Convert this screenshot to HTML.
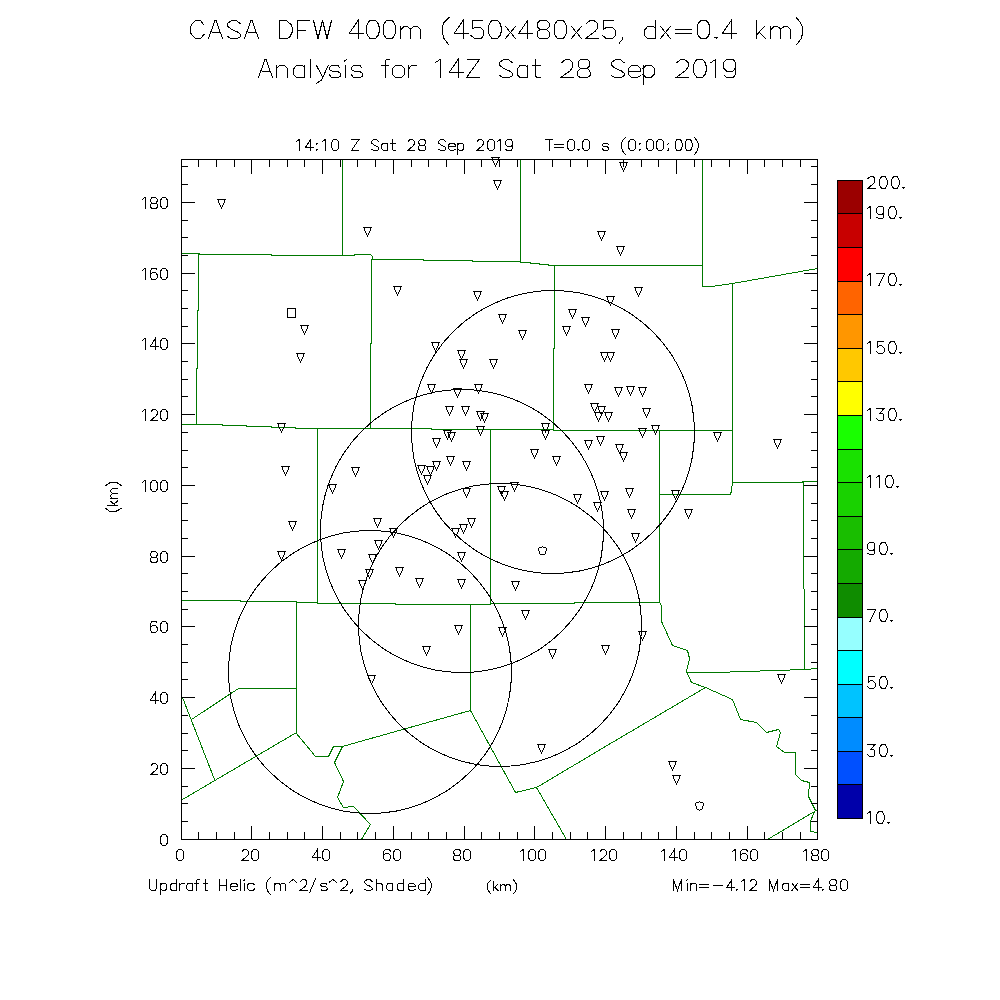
<!DOCTYPE html><html><head><meta charset="utf-8"><style>html,body{margin:0;padding:0;background:#fff;width:1000px;height:1000px;overflow:hidden}svg{display:block}text{font-family:"Liberation Sans",sans-serif}</style></head><body>
<svg width="1000" height="1000" viewBox="0 0 1000 1000">
<rect width="1000" height="1000" fill="#fff"/>
<rect x="837" y="180" width="26" height="33" fill="#9b0000"/>
<rect x="837" y="213" width="26" height="34" fill="#c80000"/>
<rect x="837" y="247" width="26" height="34" fill="#ff0000"/>
<rect x="837" y="281" width="26" height="33" fill="#ff6400"/>
<rect x="837" y="314" width="26" height="34" fill="#ff9600"/>
<rect x="837" y="348" width="26" height="33" fill="#ffc800"/>
<rect x="837" y="381" width="26" height="34" fill="#ffff00"/>
<rect x="837" y="415" width="26" height="34" fill="#19ff00"/>
<rect x="837" y="449" width="26" height="33" fill="#19e100"/>
<rect x="837" y="482" width="26" height="34" fill="#19d200"/>
<rect x="837" y="516" width="26" height="33" fill="#19be00"/>
<rect x="837" y="549" width="26" height="34" fill="#14aa00"/>
<rect x="837" y="583" width="26" height="34" fill="#0f8c00"/>
<rect x="837" y="617" width="26" height="33" fill="#96ffff"/>
<rect x="837" y="650" width="26" height="34" fill="#00ffff"/>
<rect x="837" y="684" width="26" height="33" fill="#00c3ff"/>
<rect x="837" y="717" width="26" height="34" fill="#008cff"/>
<rect x="837" y="751" width="26" height="33" fill="#0050ff"/>
<rect x="837" y="784" width="26" height="34" fill="#0000aa"/>
<g fill="none" stroke-width="1" stroke-linecap="square" shape-rendering="crispEdges">
<path d="M837.5 180.5 L862.5 180.5" stroke="#000"/>
<path d="M837.5 213.5 L862.5 213.5" stroke="#000"/>
<path d="M837.5 247.5 L862.5 247.5" stroke="#000"/>
<path d="M837.5 281.5 L862.5 281.5" stroke="#000"/>
<path d="M837.5 314.5 L862.5 314.5" stroke="#000"/>
<path d="M837.5 348.5 L862.5 348.5" stroke="#000"/>
<path d="M837.5 381.5 L862.5 381.5" stroke="#000"/>
<path d="M837.5 415.5 L862.5 415.5" stroke="#000"/>
<path d="M837.5 449.5 L862.5 449.5" stroke="#000"/>
<path d="M837.5 482.5 L862.5 482.5" stroke="#000"/>
<path d="M837.5 516.5 L862.5 516.5" stroke="#000"/>
<path d="M837.5 549.5 L862.5 549.5" stroke="#000"/>
<path d="M837.5 583.5 L862.5 583.5" stroke="#000"/>
<path d="M837.5 617.5 L862.5 617.5" stroke="#000"/>
<path d="M837.5 650.5 L862.5 650.5" stroke="#000"/>
<path d="M837.5 684.5 L862.5 684.5" stroke="#000"/>
<path d="M837.5 717.5 L862.5 717.5" stroke="#000"/>
<path d="M837.5 751.5 L862.5 751.5" stroke="#000"/>
<path d="M837.5 784.5 L862.5 784.5" stroke="#000"/>
<path d="M837.5 818.5 L862.5 818.5" stroke="#000"/>
<path d="M837.5 180.5 L837.5 818.5" stroke="#000"/>
<path d="M862.5 180.5 L862.5 818.5" stroke="#000"/>
<path d="M342.5 159.5 L342.5 255.5" stroke="#007800"/>
<path d="M181.5 253.5 L199.5 253.5 L199.5 254.5 L271.5 254.5 L271.5 255.5 L354.5 255.5 L354.5 254.5 L370.5 254.5 L372.5 256.5 L372.5 259.5 L423.5 259.5 L423.5 260.5 L472.5 260.5 L472.5 261.5 L520.5 261.5 L520.5 262.5 L530.5 262.5 L530.5 263.5 L539.5 263.5 L539.5 264.5 L548.5 264.5 L548.5 265.5 L702.5 265.5" stroke="#007800"/>
<path d="M198.5 254.5 L198.5 310.5 L197.5 310.5 L197.5 368.5 L196.5 368.5 L196.5 424.5" stroke="#007800"/>
<path d="M371.5 259.5 L371.5 343.5 L370.5 343.5 L370.5 428.5" stroke="#007800"/>
<path d="M520.5 159.5 L520.5 261.5" stroke="#007800"/>
<path d="M554.5 265.5 L554.5 348.5 L553.5 348.5 L553.5 429.5" stroke="#007800"/>
<path d="M702.5 159.5 L702.5 286.5 L711.5 286.5 L732.5 283.5 L817.5 268.5" stroke="#007800"/>
<path d="M732.5 283.5 L732.5 482.5 L731.5 490.5 L730.5 494.5" stroke="#007800"/>
<path d="M181.5 424.5 L222.5 424.5 L222.5 425.5 L246.5 425.5 L246.5 426.5 L271.5 426.5 L271.5 427.5 L295.5 427.5 L295.5 428.5 L431.5 428.5 L431.5 429.5 L553.5 429.5 L553.5 430.5 L732.5 430.5" stroke="#007800"/>
<path d="M317.5 428.5 L317.5 602.5" stroke="#007800"/>
<path d="M490.5 429.5 L490.5 603.5" stroke="#007800"/>
<path d="M659.5 430.5 L659.5 602.5" stroke="#007800"/>
<path d="M659.5 494.5 L730.5 494.5" stroke="#007800"/>
<path d="M732.5 482.5 L802.5 482.5 L802.5 481.5 L817.5 481.5" stroke="#007800"/>
<path d="M803.5 482.5 L803.5 575.5 L804.5 602.5 L804.5 668.5" stroke="#007800"/>
<path d="M181.5 600.5 L240.5 600.5 L240.5 601.5 L296.5 601.5 L296.5 602.5 L317.5 602.5 L317.5 603.5 L395.5 603.5 L395.5 604.5 L490.5 604.5 L490.5 603.5 L574.5 603.5 L574.5 602.5 L659.5 602.5" stroke="#007800"/>
<path d="M296.5 601.5 L296.5 733.5" stroke="#007800"/>
<path d="M238.5 688.5 L296.5 688.5" stroke="#007800"/>
<path d="M238.5 688.5 L191.5 719.5" stroke="#007800"/>
<path d="M182.5 697.5 L214.5 779.5" stroke="#007800"/>
<path d="M296.5 732.5 L182.5 799.5" stroke="#007800"/>
<path d="M296.5 733.5 L315.5 756.5 L328.5 756.5 L333.5 746.5 L342.5 746.5 L395.5 731.5 L470.5 710.5" stroke="#007800"/>
<path d="M342.5 746.5 L334.5 762.5 L343.5 781.5 L337.5 797.5 L343.5 807.5 L353.5 806.5 L370.5 824.5 L361.5 839.5" stroke="#007800"/>
<path d="M470.5 604.5 L470.5 710.5" stroke="#007800"/>
<path d="M470.5 710.5 L515.5 792.5 L536.5 787.5 L610.5 743.5 L705.5 687.5" stroke="#007800"/>
<path d="M536.5 787.5 L566.5 839.5" stroke="#007800"/>
<path d="M659.5 602.5 L661.5 605.5 L661.5 621.5 L672.5 645.5 L687.5 650.5 L689.5 658.5 L686.5 671.5 L691.5 682.5 L705.5 687.5 L732.5 699.5 L740.5 719.5 L756.5 722.5 L766.5 732.5 L778.5 729.5 L780.5 732.5 L776.5 746.5 L784.5 752.5 L795.5 752.5 L795.5 774.5 L801.5 780.5 L809.5 782.5 L808.5 796.5 L812.5 804.5 L815.5 810.5 L813.5 813.5 L810.5 821.5 L810.5 831.5 L817.5 832.5" stroke="#007800"/>
<path d="M815.5 810.5 L817.5 810.5" stroke="#007800"/>
<path d="M686.5 672.5 L715.5 672.5 L805.5 669.5 L817.5 668.5" stroke="#007800"/>
<path d="M767.5 839.5 L814.5 811.5" stroke="#007800"/>
<circle cx="553" cy="432" r="141.5" stroke="#000"/>
<circle cx="462" cy="531" r="141.5" stroke="#000"/>
<circle cx="370" cy="672" r="141.5" stroke="#000"/>
<circle cx="500" cy="625" r="141.5" stroke="#000"/>
<path fill="#000" stroke="none" d="M217 199h9v1h-9zM218 200h1v1h-1zM224 200h1v1h-1zM218 201h1v1h-1zM224 201h1v1h-1zM218 202h1v1h-1zM224 202h1v1h-1zM219 203h1v1h-1zM223 203h1v1h-1zM219 204h1v1h-1zM223 204h1v1h-1zM220 205h1v1h-1zM222 205h1v1h-1zM220 206h1v1h-1zM222 206h1v1h-1zM221 207h1v1h-1zM221 208h1v1h-1zM363 227h9v1h-9zM364 228h1v1h-1zM370 228h1v1h-1zM364 229h1v1h-1zM370 229h1v1h-1zM364 230h1v1h-1zM370 230h1v1h-1zM365 231h1v1h-1zM369 231h1v1h-1zM365 232h1v1h-1zM369 232h1v1h-1zM366 233h1v1h-1zM368 233h1v1h-1zM366 234h1v1h-1zM368 234h1v1h-1zM367 235h1v1h-1zM367 236h1v1h-1zM393 286h9v1h-9zM394 287h1v1h-1zM400 287h1v1h-1zM394 288h1v1h-1zM400 288h1v1h-1zM394 289h1v1h-1zM400 289h1v1h-1zM395 290h1v1h-1zM399 290h1v1h-1zM395 291h1v1h-1zM399 291h1v1h-1zM396 292h1v1h-1zM398 292h1v1h-1zM396 293h1v1h-1zM398 293h1v1h-1zM397 294h1v1h-1zM397 295h1v1h-1zM300 325h9v1h-9zM301 326h1v1h-1zM307 326h1v1h-1zM301 327h1v1h-1zM307 327h1v1h-1zM301 328h1v1h-1zM307 328h1v1h-1zM302 329h1v1h-1zM306 329h1v1h-1zM302 330h1v1h-1zM306 330h1v1h-1zM303 331h1v1h-1zM305 331h1v1h-1zM303 332h1v1h-1zM305 332h1v1h-1zM304 333h1v1h-1zM304 334h1v1h-1zM296 353h9v1h-9zM297 354h1v1h-1zM303 354h1v1h-1zM297 355h1v1h-1zM303 355h1v1h-1zM297 356h1v1h-1zM303 356h1v1h-1zM298 357h1v1h-1zM302 357h1v1h-1zM298 358h1v1h-1zM302 358h1v1h-1zM299 359h1v1h-1zM301 359h1v1h-1zM299 360h1v1h-1zM301 360h1v1h-1zM300 361h1v1h-1zM300 362h1v1h-1zM491 157h9v1h-9zM492 158h1v1h-1zM498 158h1v1h-1zM492 159h1v1h-1zM498 159h1v1h-1zM492 160h1v1h-1zM498 160h1v1h-1zM493 161h1v1h-1zM497 161h1v1h-1zM493 162h1v1h-1zM497 162h1v1h-1zM494 163h1v1h-1zM496 163h1v1h-1zM494 164h1v1h-1zM496 164h1v1h-1zM495 165h1v1h-1zM495 166h1v1h-1zM493 180h9v1h-9zM494 181h1v1h-1zM500 181h1v1h-1zM494 182h1v1h-1zM500 182h1v1h-1zM494 183h1v1h-1zM500 183h1v1h-1zM495 184h1v1h-1zM499 184h1v1h-1zM495 185h1v1h-1zM499 185h1v1h-1zM496 186h1v1h-1zM498 186h1v1h-1zM496 187h1v1h-1zM498 187h1v1h-1zM497 188h1v1h-1zM497 189h1v1h-1zM597 231h9v1h-9zM598 232h1v1h-1zM604 232h1v1h-1zM598 233h1v1h-1zM604 233h1v1h-1zM598 234h1v1h-1zM604 234h1v1h-1zM599 235h1v1h-1zM603 235h1v1h-1zM599 236h1v1h-1zM603 236h1v1h-1zM600 237h1v1h-1zM602 237h1v1h-1zM600 238h1v1h-1zM602 238h1v1h-1zM601 239h1v1h-1zM601 240h1v1h-1zM473 291h9v1h-9zM474 292h1v1h-1zM480 292h1v1h-1zM474 293h1v1h-1zM480 293h1v1h-1zM474 294h1v1h-1zM480 294h1v1h-1zM475 295h1v1h-1zM479 295h1v1h-1zM475 296h1v1h-1zM479 296h1v1h-1zM476 297h1v1h-1zM478 297h1v1h-1zM476 298h1v1h-1zM478 298h1v1h-1zM477 299h1v1h-1zM477 300h1v1h-1zM498 314h9v1h-9zM499 315h1v1h-1zM505 315h1v1h-1zM499 316h1v1h-1zM505 316h1v1h-1zM499 317h1v1h-1zM505 317h1v1h-1zM500 318h1v1h-1zM504 318h1v1h-1zM500 319h1v1h-1zM504 319h1v1h-1zM501 320h1v1h-1zM503 320h1v1h-1zM501 321h1v1h-1zM503 321h1v1h-1zM502 322h1v1h-1zM502 323h1v1h-1zM518 330h9v1h-9zM519 331h1v1h-1zM525 331h1v1h-1zM519 332h1v1h-1zM525 332h1v1h-1zM519 333h1v1h-1zM525 333h1v1h-1zM520 334h1v1h-1zM524 334h1v1h-1zM520 335h1v1h-1zM524 335h1v1h-1zM521 336h1v1h-1zM523 336h1v1h-1zM521 337h1v1h-1zM523 337h1v1h-1zM522 338h1v1h-1zM522 339h1v1h-1zM568 309h9v1h-9zM569 310h1v1h-1zM575 310h1v1h-1zM569 311h1v1h-1zM575 311h1v1h-1zM569 312h1v1h-1zM575 312h1v1h-1zM570 313h1v1h-1zM574 313h1v1h-1zM570 314h1v1h-1zM574 314h1v1h-1zM571 315h1v1h-1zM573 315h1v1h-1zM571 316h1v1h-1zM573 316h1v1h-1zM572 317h1v1h-1zM572 318h1v1h-1zM581 317h9v1h-9zM582 318h1v1h-1zM588 318h1v1h-1zM582 319h1v1h-1zM588 319h1v1h-1zM582 320h1v1h-1zM588 320h1v1h-1zM583 321h1v1h-1zM587 321h1v1h-1zM583 322h1v1h-1zM587 322h1v1h-1zM584 323h1v1h-1zM586 323h1v1h-1zM584 324h1v1h-1zM586 324h1v1h-1zM585 325h1v1h-1zM585 326h1v1h-1zM562 326h9v1h-9zM563 327h1v1h-1zM569 327h1v1h-1zM563 328h1v1h-1zM569 328h1v1h-1zM563 329h1v1h-1zM569 329h1v1h-1zM564 330h1v1h-1zM568 330h1v1h-1zM564 331h1v1h-1zM568 331h1v1h-1zM565 332h1v1h-1zM567 332h1v1h-1zM565 333h1v1h-1zM567 333h1v1h-1zM566 334h1v1h-1zM566 335h1v1h-1zM431 342h9v1h-9zM432 343h1v1h-1zM438 343h1v1h-1zM432 344h1v1h-1zM438 344h1v1h-1zM432 345h1v1h-1zM438 345h1v1h-1zM433 346h1v1h-1zM437 346h1v1h-1zM433 347h1v1h-1zM437 347h1v1h-1zM434 348h1v1h-1zM436 348h1v1h-1zM434 349h1v1h-1zM436 349h1v1h-1zM435 350h1v1h-1zM435 351h1v1h-1zM457 350h9v1h-9zM458 351h1v1h-1zM464 351h1v1h-1zM458 352h1v1h-1zM464 352h1v1h-1zM458 353h1v1h-1zM464 353h1v1h-1zM459 354h1v1h-1zM463 354h1v1h-1zM459 355h1v1h-1zM463 355h1v1h-1zM460 356h1v1h-1zM462 356h1v1h-1zM460 357h1v1h-1zM462 357h1v1h-1zM461 358h1v1h-1zM461 359h1v1h-1zM459 359h9v1h-9zM460 360h1v1h-1zM466 360h1v1h-1zM460 361h1v1h-1zM466 361h1v1h-1zM460 362h1v1h-1zM466 362h1v1h-1zM461 363h1v1h-1zM465 363h1v1h-1zM461 364h1v1h-1zM465 364h1v1h-1zM462 365h1v1h-1zM464 365h1v1h-1zM462 366h1v1h-1zM464 366h1v1h-1zM463 367h1v1h-1zM463 368h1v1h-1zM489 359h9v1h-9zM490 360h1v1h-1zM496 360h1v1h-1zM490 361h1v1h-1zM496 361h1v1h-1zM490 362h1v1h-1zM496 362h1v1h-1zM491 363h1v1h-1zM495 363h1v1h-1zM491 364h1v1h-1zM495 364h1v1h-1zM492 365h1v1h-1zM494 365h1v1h-1zM492 366h1v1h-1zM494 366h1v1h-1zM493 367h1v1h-1zM493 368h1v1h-1zM600 352h9v1h-9zM601 353h1v1h-1zM607 353h1v1h-1zM601 354h1v1h-1zM607 354h1v1h-1zM601 355h1v1h-1zM607 355h1v1h-1zM602 356h1v1h-1zM606 356h1v1h-1zM602 357h1v1h-1zM606 357h1v1h-1zM603 358h1v1h-1zM605 358h1v1h-1zM603 359h1v1h-1zM605 359h1v1h-1zM604 360h1v1h-1zM604 361h1v1h-1zM606 296h9v1h-9zM607 297h1v1h-1zM613 297h1v1h-1zM607 298h1v1h-1zM613 298h1v1h-1zM607 299h1v1h-1zM613 299h1v1h-1zM608 300h1v1h-1zM612 300h1v1h-1zM608 301h1v1h-1zM612 301h1v1h-1zM609 302h1v1h-1zM611 302h1v1h-1zM609 303h1v1h-1zM611 303h1v1h-1zM610 304h1v1h-1zM610 305h1v1h-1zM619 162h9v1h-9zM620 163h1v1h-1zM626 163h1v1h-1zM620 164h1v1h-1zM626 164h1v1h-1zM620 165h1v1h-1zM626 165h1v1h-1zM621 166h1v1h-1zM625 166h1v1h-1zM621 167h1v1h-1zM625 167h1v1h-1zM622 168h1v1h-1zM624 168h1v1h-1zM622 169h1v1h-1zM624 169h1v1h-1zM623 170h1v1h-1zM623 171h1v1h-1zM616 246h9v1h-9zM617 247h1v1h-1zM623 247h1v1h-1zM617 248h1v1h-1zM623 248h1v1h-1zM617 249h1v1h-1zM623 249h1v1h-1zM618 250h1v1h-1zM622 250h1v1h-1zM618 251h1v1h-1zM622 251h1v1h-1zM619 252h1v1h-1zM621 252h1v1h-1zM619 253h1v1h-1zM621 253h1v1h-1zM620 254h1v1h-1zM620 255h1v1h-1zM634 287h9v1h-9zM635 288h1v1h-1zM641 288h1v1h-1zM635 289h1v1h-1zM641 289h1v1h-1zM635 290h1v1h-1zM641 290h1v1h-1zM636 291h1v1h-1zM640 291h1v1h-1zM636 292h1v1h-1zM640 292h1v1h-1zM637 293h1v1h-1zM639 293h1v1h-1zM637 294h1v1h-1zM639 294h1v1h-1zM638 295h1v1h-1zM638 296h1v1h-1zM611 329h9v1h-9zM612 330h1v1h-1zM618 330h1v1h-1zM612 331h1v1h-1zM618 331h1v1h-1zM612 332h1v1h-1zM618 332h1v1h-1zM613 333h1v1h-1zM617 333h1v1h-1zM613 334h1v1h-1zM617 334h1v1h-1zM614 335h1v1h-1zM616 335h1v1h-1zM614 336h1v1h-1zM616 336h1v1h-1zM615 337h1v1h-1zM615 338h1v1h-1zM606 352h9v1h-9zM607 353h1v1h-1zM613 353h1v1h-1zM607 354h1v1h-1zM613 354h1v1h-1zM607 355h1v1h-1zM613 355h1v1h-1zM608 356h1v1h-1zM612 356h1v1h-1zM608 357h1v1h-1zM612 357h1v1h-1zM609 358h1v1h-1zM611 358h1v1h-1zM609 359h1v1h-1zM611 359h1v1h-1zM610 360h1v1h-1zM610 361h1v1h-1zM277 423h9v1h-9zM278 424h1v1h-1zM284 424h1v1h-1zM278 425h1v1h-1zM284 425h1v1h-1zM278 426h1v1h-1zM284 426h1v1h-1zM279 427h1v1h-1zM283 427h1v1h-1zM279 428h1v1h-1zM283 428h1v1h-1zM280 429h1v1h-1zM282 429h1v1h-1zM280 430h1v1h-1zM282 430h1v1h-1zM281 431h1v1h-1zM281 432h1v1h-1zM281 466h9v1h-9zM282 467h1v1h-1zM288 467h1v1h-1zM282 468h1v1h-1zM288 468h1v1h-1zM282 469h1v1h-1zM288 469h1v1h-1zM283 470h1v1h-1zM287 470h1v1h-1zM283 471h1v1h-1zM287 471h1v1h-1zM284 472h1v1h-1zM286 472h1v1h-1zM284 473h1v1h-1zM286 473h1v1h-1zM285 474h1v1h-1zM285 475h1v1h-1zM351 467h9v1h-9zM352 468h1v1h-1zM358 468h1v1h-1zM352 469h1v1h-1zM358 469h1v1h-1zM352 470h1v1h-1zM358 470h1v1h-1zM353 471h1v1h-1zM357 471h1v1h-1zM353 472h1v1h-1zM357 472h1v1h-1zM354 473h1v1h-1zM356 473h1v1h-1zM354 474h1v1h-1zM356 474h1v1h-1zM355 475h1v1h-1zM355 476h1v1h-1zM328 484h9v1h-9zM329 485h1v1h-1zM335 485h1v1h-1zM329 486h1v1h-1zM335 486h1v1h-1zM329 487h1v1h-1zM335 487h1v1h-1zM330 488h1v1h-1zM334 488h1v1h-1zM330 489h1v1h-1zM334 489h1v1h-1zM331 490h1v1h-1zM333 490h1v1h-1zM331 491h1v1h-1zM333 491h1v1h-1zM332 492h1v1h-1zM332 493h1v1h-1zM288 521h9v1h-9zM289 522h1v1h-1zM295 522h1v1h-1zM289 523h1v1h-1zM295 523h1v1h-1zM289 524h1v1h-1zM295 524h1v1h-1zM290 525h1v1h-1zM294 525h1v1h-1zM290 526h1v1h-1zM294 526h1v1h-1zM291 527h1v1h-1zM293 527h1v1h-1zM291 528h1v1h-1zM293 528h1v1h-1zM292 529h1v1h-1zM292 530h1v1h-1zM373 518h9v1h-9zM374 519h1v1h-1zM380 519h1v1h-1zM374 520h1v1h-1zM380 520h1v1h-1zM374 521h1v1h-1zM380 521h1v1h-1zM375 522h1v1h-1zM379 522h1v1h-1zM375 523h1v1h-1zM379 523h1v1h-1zM376 524h1v1h-1zM378 524h1v1h-1zM376 525h1v1h-1zM378 525h1v1h-1zM377 526h1v1h-1zM377 527h1v1h-1zM389 528h9v1h-9zM390 529h1v1h-1zM396 529h1v1h-1zM390 530h1v1h-1zM396 530h1v1h-1zM390 531h1v1h-1zM396 531h1v1h-1zM391 532h1v1h-1zM395 532h1v1h-1zM391 533h1v1h-1zM395 533h1v1h-1zM392 534h1v1h-1zM394 534h1v1h-1zM392 535h1v1h-1zM394 535h1v1h-1zM393 536h1v1h-1zM393 537h1v1h-1zM374 540h9v1h-9zM375 541h1v1h-1zM381 541h1v1h-1zM375 542h1v1h-1zM381 542h1v1h-1zM375 543h1v1h-1zM381 543h1v1h-1zM376 544h1v1h-1zM380 544h1v1h-1zM376 545h1v1h-1zM380 545h1v1h-1zM377 546h1v1h-1zM379 546h1v1h-1zM377 547h1v1h-1zM379 547h1v1h-1zM378 548h1v1h-1zM378 549h1v1h-1zM337 549h9v1h-9zM338 550h1v1h-1zM344 550h1v1h-1zM338 551h1v1h-1zM344 551h1v1h-1zM338 552h1v1h-1zM344 552h1v1h-1zM339 553h1v1h-1zM343 553h1v1h-1zM339 554h1v1h-1zM343 554h1v1h-1zM340 555h1v1h-1zM342 555h1v1h-1zM340 556h1v1h-1zM342 556h1v1h-1zM341 557h1v1h-1zM341 558h1v1h-1zM277 551h9v1h-9zM278 552h1v1h-1zM284 552h1v1h-1zM278 553h1v1h-1zM284 553h1v1h-1zM278 554h1v1h-1zM284 554h1v1h-1zM279 555h1v1h-1zM283 555h1v1h-1zM279 556h1v1h-1zM283 556h1v1h-1zM280 557h1v1h-1zM282 557h1v1h-1zM280 558h1v1h-1zM282 558h1v1h-1zM281 559h1v1h-1zM281 560h1v1h-1zM368 554h9v1h-9zM369 555h1v1h-1zM375 555h1v1h-1zM369 556h1v1h-1zM375 556h1v1h-1zM369 557h1v1h-1zM375 557h1v1h-1zM370 558h1v1h-1zM374 558h1v1h-1zM370 559h1v1h-1zM374 559h1v1h-1zM371 560h1v1h-1zM373 560h1v1h-1zM371 561h1v1h-1zM373 561h1v1h-1zM372 562h1v1h-1zM372 563h1v1h-1zM365 569h9v1h-9zM366 570h1v1h-1zM372 570h1v1h-1zM366 571h1v1h-1zM372 571h1v1h-1zM366 572h1v1h-1zM372 572h1v1h-1zM367 573h1v1h-1zM371 573h1v1h-1zM367 574h1v1h-1zM371 574h1v1h-1zM368 575h1v1h-1zM370 575h1v1h-1zM368 576h1v1h-1zM370 576h1v1h-1zM369 577h1v1h-1zM369 578h1v1h-1zM358 580h9v1h-9zM359 581h1v1h-1zM365 581h1v1h-1zM359 582h1v1h-1zM365 582h1v1h-1zM359 583h1v1h-1zM365 583h1v1h-1zM360 584h1v1h-1zM364 584h1v1h-1zM360 585h1v1h-1zM364 585h1v1h-1zM361 586h1v1h-1zM363 586h1v1h-1zM361 587h1v1h-1zM363 587h1v1h-1zM362 588h1v1h-1zM362 589h1v1h-1zM427 384h9v1h-9zM428 385h1v1h-1zM434 385h1v1h-1zM428 386h1v1h-1zM434 386h1v1h-1zM428 387h1v1h-1zM434 387h1v1h-1zM429 388h1v1h-1zM433 388h1v1h-1zM429 389h1v1h-1zM433 389h1v1h-1zM430 390h1v1h-1zM432 390h1v1h-1zM430 391h1v1h-1zM432 391h1v1h-1zM431 392h1v1h-1zM431 393h1v1h-1zM453 388h9v1h-9zM454 389h1v1h-1zM460 389h1v1h-1zM454 390h1v1h-1zM460 390h1v1h-1zM454 391h1v1h-1zM460 391h1v1h-1zM455 392h1v1h-1zM459 392h1v1h-1zM455 393h1v1h-1zM459 393h1v1h-1zM456 394h1v1h-1zM458 394h1v1h-1zM456 395h1v1h-1zM458 395h1v1h-1zM457 396h1v1h-1zM457 397h1v1h-1zM474 384h9v1h-9zM475 385h1v1h-1zM481 385h1v1h-1zM475 386h1v1h-1zM481 386h1v1h-1zM475 387h1v1h-1zM481 387h1v1h-1zM476 388h1v1h-1zM480 388h1v1h-1zM476 389h1v1h-1zM480 389h1v1h-1zM477 390h1v1h-1zM479 390h1v1h-1zM477 391h1v1h-1zM479 391h1v1h-1zM478 392h1v1h-1zM478 393h1v1h-1zM584 384h9v1h-9zM585 385h1v1h-1zM591 385h1v1h-1zM585 386h1v1h-1zM591 386h1v1h-1zM585 387h1v1h-1zM591 387h1v1h-1zM586 388h1v1h-1zM590 388h1v1h-1zM586 389h1v1h-1zM590 389h1v1h-1zM587 390h1v1h-1zM589 390h1v1h-1zM587 391h1v1h-1zM589 391h1v1h-1zM588 392h1v1h-1zM588 393h1v1h-1zM445 406h9v1h-9zM446 407h1v1h-1zM452 407h1v1h-1zM446 408h1v1h-1zM452 408h1v1h-1zM446 409h1v1h-1zM452 409h1v1h-1zM447 410h1v1h-1zM451 410h1v1h-1zM447 411h1v1h-1zM451 411h1v1h-1zM448 412h1v1h-1zM450 412h1v1h-1zM448 413h1v1h-1zM450 413h1v1h-1zM449 414h1v1h-1zM449 415h1v1h-1zM461 406h9v1h-9zM462 407h1v1h-1zM468 407h1v1h-1zM462 408h1v1h-1zM468 408h1v1h-1zM462 409h1v1h-1zM468 409h1v1h-1zM463 410h1v1h-1zM467 410h1v1h-1zM463 411h1v1h-1zM467 411h1v1h-1zM464 412h1v1h-1zM466 412h1v1h-1zM464 413h1v1h-1zM466 413h1v1h-1zM465 414h1v1h-1zM465 415h1v1h-1zM476 411h9v1h-9zM477 412h1v1h-1zM483 412h1v1h-1zM477 413h1v1h-1zM483 413h1v1h-1zM477 414h1v1h-1zM483 414h1v1h-1zM478 415h1v1h-1zM482 415h1v1h-1zM478 416h1v1h-1zM482 416h1v1h-1zM479 417h1v1h-1zM481 417h1v1h-1zM479 418h1v1h-1zM481 418h1v1h-1zM480 419h1v1h-1zM480 420h1v1h-1zM480 413h9v1h-9zM481 414h1v1h-1zM487 414h1v1h-1zM481 415h1v1h-1zM487 415h1v1h-1zM481 416h1v1h-1zM487 416h1v1h-1zM482 417h1v1h-1zM486 417h1v1h-1zM482 418h1v1h-1zM486 418h1v1h-1zM483 419h1v1h-1zM485 419h1v1h-1zM483 420h1v1h-1zM485 420h1v1h-1zM484 421h1v1h-1zM484 422h1v1h-1zM590 403h9v1h-9zM591 404h1v1h-1zM597 404h1v1h-1zM591 405h1v1h-1zM597 405h1v1h-1zM591 406h1v1h-1zM597 406h1v1h-1zM592 407h1v1h-1zM596 407h1v1h-1zM592 408h1v1h-1zM596 408h1v1h-1zM593 409h1v1h-1zM595 409h1v1h-1zM593 410h1v1h-1zM595 410h1v1h-1zM594 411h1v1h-1zM594 412h1v1h-1zM597 406h9v1h-9zM598 407h1v1h-1zM604 407h1v1h-1zM598 408h1v1h-1zM604 408h1v1h-1zM598 409h1v1h-1zM604 409h1v1h-1zM599 410h1v1h-1zM603 410h1v1h-1zM599 411h1v1h-1zM603 411h1v1h-1zM600 412h1v1h-1zM602 412h1v1h-1zM600 413h1v1h-1zM602 413h1v1h-1zM601 414h1v1h-1zM601 415h1v1h-1zM594 412h9v1h-9zM595 413h1v1h-1zM601 413h1v1h-1zM595 414h1v1h-1zM601 414h1v1h-1zM595 415h1v1h-1zM601 415h1v1h-1zM596 416h1v1h-1zM600 416h1v1h-1zM596 417h1v1h-1zM600 417h1v1h-1zM597 418h1v1h-1zM599 418h1v1h-1zM597 419h1v1h-1zM599 419h1v1h-1zM598 420h1v1h-1zM598 421h1v1h-1zM604 412h9v1h-9zM605 413h1v1h-1zM611 413h1v1h-1zM605 414h1v1h-1zM611 414h1v1h-1zM605 415h1v1h-1zM611 415h1v1h-1zM606 416h1v1h-1zM610 416h1v1h-1zM606 417h1v1h-1zM610 417h1v1h-1zM607 418h1v1h-1zM609 418h1v1h-1zM607 419h1v1h-1zM609 419h1v1h-1zM608 420h1v1h-1zM608 421h1v1h-1zM541 423h9v1h-9zM542 424h1v1h-1zM548 424h1v1h-1zM542 425h1v1h-1zM548 425h1v1h-1zM542 426h1v1h-1zM548 426h1v1h-1zM543 427h1v1h-1zM547 427h1v1h-1zM543 428h1v1h-1zM547 428h1v1h-1zM544 429h1v1h-1zM546 429h1v1h-1zM544 430h1v1h-1zM546 430h1v1h-1zM545 431h1v1h-1zM545 432h1v1h-1zM541 430h9v1h-9zM542 431h1v1h-1zM548 431h1v1h-1zM542 432h1v1h-1zM548 432h1v1h-1zM542 433h1v1h-1zM548 433h1v1h-1zM543 434h1v1h-1zM547 434h1v1h-1zM543 435h1v1h-1zM547 435h1v1h-1zM544 436h1v1h-1zM546 436h1v1h-1zM544 437h1v1h-1zM546 437h1v1h-1zM545 438h1v1h-1zM545 439h1v1h-1zM476 426h9v1h-9zM477 427h1v1h-1zM483 427h1v1h-1zM477 428h1v1h-1zM483 428h1v1h-1zM477 429h1v1h-1zM483 429h1v1h-1zM478 430h1v1h-1zM482 430h1v1h-1zM478 431h1v1h-1zM482 431h1v1h-1zM479 432h1v1h-1zM481 432h1v1h-1zM479 433h1v1h-1zM481 433h1v1h-1zM480 434h1v1h-1zM480 435h1v1h-1zM443 430h9v1h-9zM444 431h1v1h-1zM450 431h1v1h-1zM444 432h1v1h-1zM450 432h1v1h-1zM444 433h1v1h-1zM450 433h1v1h-1zM445 434h1v1h-1zM449 434h1v1h-1zM445 435h1v1h-1zM449 435h1v1h-1zM446 436h1v1h-1zM448 436h1v1h-1zM446 437h1v1h-1zM448 437h1v1h-1zM447 438h1v1h-1zM447 439h1v1h-1zM447 432h9v1h-9zM448 433h1v1h-1zM454 433h1v1h-1zM448 434h1v1h-1zM454 434h1v1h-1zM448 435h1v1h-1zM454 435h1v1h-1zM449 436h1v1h-1zM453 436h1v1h-1zM449 437h1v1h-1zM453 437h1v1h-1zM450 438h1v1h-1zM452 438h1v1h-1zM450 439h1v1h-1zM452 439h1v1h-1zM451 440h1v1h-1zM451 441h1v1h-1zM432 438h9v1h-9zM433 439h1v1h-1zM439 439h1v1h-1zM433 440h1v1h-1zM439 440h1v1h-1zM433 441h1v1h-1zM439 441h1v1h-1zM434 442h1v1h-1zM438 442h1v1h-1zM434 443h1v1h-1zM438 443h1v1h-1zM435 444h1v1h-1zM437 444h1v1h-1zM435 445h1v1h-1zM437 445h1v1h-1zM436 446h1v1h-1zM436 447h1v1h-1zM584 440h9v1h-9zM585 441h1v1h-1zM591 441h1v1h-1zM585 442h1v1h-1zM591 442h1v1h-1zM585 443h1v1h-1zM591 443h1v1h-1zM586 444h1v1h-1zM590 444h1v1h-1zM586 445h1v1h-1zM590 445h1v1h-1zM587 446h1v1h-1zM589 446h1v1h-1zM587 447h1v1h-1zM589 447h1v1h-1zM588 448h1v1h-1zM588 449h1v1h-1zM596 436h9v1h-9zM597 437h1v1h-1zM603 437h1v1h-1zM597 438h1v1h-1zM603 438h1v1h-1zM597 439h1v1h-1zM603 439h1v1h-1zM598 440h1v1h-1zM602 440h1v1h-1zM598 441h1v1h-1zM602 441h1v1h-1zM599 442h1v1h-1zM601 442h1v1h-1zM599 443h1v1h-1zM601 443h1v1h-1zM600 444h1v1h-1zM600 445h1v1h-1zM530 449h9v1h-9zM531 450h1v1h-1zM537 450h1v1h-1zM531 451h1v1h-1zM537 451h1v1h-1zM531 452h1v1h-1zM537 452h1v1h-1zM532 453h1v1h-1zM536 453h1v1h-1zM532 454h1v1h-1zM536 454h1v1h-1zM533 455h1v1h-1zM535 455h1v1h-1zM533 456h1v1h-1zM535 456h1v1h-1zM534 457h1v1h-1zM534 458h1v1h-1zM552 456h9v1h-9zM553 457h1v1h-1zM559 457h1v1h-1zM553 458h1v1h-1zM559 458h1v1h-1zM553 459h1v1h-1zM559 459h1v1h-1zM554 460h1v1h-1zM558 460h1v1h-1zM554 461h1v1h-1zM558 461h1v1h-1zM555 462h1v1h-1zM557 462h1v1h-1zM555 463h1v1h-1zM557 463h1v1h-1zM556 464h1v1h-1zM556 465h1v1h-1zM446 456h9v1h-9zM447 457h1v1h-1zM453 457h1v1h-1zM447 458h1v1h-1zM453 458h1v1h-1zM447 459h1v1h-1zM453 459h1v1h-1zM448 460h1v1h-1zM452 460h1v1h-1zM448 461h1v1h-1zM452 461h1v1h-1zM449 462h1v1h-1zM451 462h1v1h-1zM449 463h1v1h-1zM451 463h1v1h-1zM450 464h1v1h-1zM450 465h1v1h-1zM462 461h9v1h-9zM463 462h1v1h-1zM469 462h1v1h-1zM463 463h1v1h-1zM469 463h1v1h-1zM463 464h1v1h-1zM469 464h1v1h-1zM464 465h1v1h-1zM468 465h1v1h-1zM464 466h1v1h-1zM468 466h1v1h-1zM465 467h1v1h-1zM467 467h1v1h-1zM465 468h1v1h-1zM467 468h1v1h-1zM466 469h1v1h-1zM466 470h1v1h-1zM432 461h9v1h-9zM433 462h1v1h-1zM439 462h1v1h-1zM433 463h1v1h-1zM439 463h1v1h-1zM433 464h1v1h-1zM439 464h1v1h-1zM434 465h1v1h-1zM438 465h1v1h-1zM434 466h1v1h-1zM438 466h1v1h-1zM435 467h1v1h-1zM437 467h1v1h-1zM435 468h1v1h-1zM437 468h1v1h-1zM436 469h1v1h-1zM436 470h1v1h-1zM417 465h9v1h-9zM418 466h1v1h-1zM424 466h1v1h-1zM418 467h1v1h-1zM424 467h1v1h-1zM418 468h1v1h-1zM424 468h1v1h-1zM419 469h1v1h-1zM423 469h1v1h-1zM419 470h1v1h-1zM423 470h1v1h-1zM420 471h1v1h-1zM422 471h1v1h-1zM420 472h1v1h-1zM422 472h1v1h-1zM421 473h1v1h-1zM421 474h1v1h-1zM426 466h9v1h-9zM427 467h1v1h-1zM433 467h1v1h-1zM427 468h1v1h-1zM433 468h1v1h-1zM427 469h1v1h-1zM433 469h1v1h-1zM428 470h1v1h-1zM432 470h1v1h-1zM428 471h1v1h-1zM432 471h1v1h-1zM429 472h1v1h-1zM431 472h1v1h-1zM429 473h1v1h-1zM431 473h1v1h-1zM430 474h1v1h-1zM430 475h1v1h-1zM423 475h9v1h-9zM424 476h1v1h-1zM430 476h1v1h-1zM424 477h1v1h-1zM430 477h1v1h-1zM424 478h1v1h-1zM430 478h1v1h-1zM425 479h1v1h-1zM429 479h1v1h-1zM425 480h1v1h-1zM429 480h1v1h-1zM426 481h1v1h-1zM428 481h1v1h-1zM426 482h1v1h-1zM428 482h1v1h-1zM427 483h1v1h-1zM427 484h1v1h-1zM462 488h9v1h-9zM463 489h1v1h-1zM469 489h1v1h-1zM463 490h1v1h-1zM469 490h1v1h-1zM463 491h1v1h-1zM469 491h1v1h-1zM464 492h1v1h-1zM468 492h1v1h-1zM464 493h1v1h-1zM468 493h1v1h-1zM465 494h1v1h-1zM467 494h1v1h-1zM465 495h1v1h-1zM467 495h1v1h-1zM466 496h1v1h-1zM466 497h1v1h-1zM497 486h9v1h-9zM498 487h1v1h-1zM504 487h1v1h-1zM498 488h1v1h-1zM504 488h1v1h-1zM498 489h1v1h-1zM504 489h1v1h-1zM499 490h1v1h-1zM503 490h1v1h-1zM499 491h1v1h-1zM503 491h1v1h-1zM500 492h1v1h-1zM502 492h1v1h-1zM500 493h1v1h-1zM502 493h1v1h-1zM501 494h1v1h-1zM501 495h1v1h-1zM500 491h9v1h-9zM501 492h1v1h-1zM507 492h1v1h-1zM501 493h1v1h-1zM507 493h1v1h-1zM501 494h1v1h-1zM507 494h1v1h-1zM502 495h1v1h-1zM506 495h1v1h-1zM502 496h1v1h-1zM506 496h1v1h-1zM503 497h1v1h-1zM505 497h1v1h-1zM503 498h1v1h-1zM505 498h1v1h-1zM504 499h1v1h-1zM504 500h1v1h-1zM510 482h9v1h-9zM511 483h1v1h-1zM517 483h1v1h-1zM511 484h1v1h-1zM517 484h1v1h-1zM511 485h1v1h-1zM517 485h1v1h-1zM512 486h1v1h-1zM516 486h1v1h-1zM512 487h1v1h-1zM516 487h1v1h-1zM513 488h1v1h-1zM515 488h1v1h-1zM513 489h1v1h-1zM515 489h1v1h-1zM514 490h1v1h-1zM514 491h1v1h-1zM573 494h9v1h-9zM574 495h1v1h-1zM580 495h1v1h-1zM574 496h1v1h-1zM580 496h1v1h-1zM574 497h1v1h-1zM580 497h1v1h-1zM575 498h1v1h-1zM579 498h1v1h-1zM575 499h1v1h-1zM579 499h1v1h-1zM576 500h1v1h-1zM578 500h1v1h-1zM576 501h1v1h-1zM578 501h1v1h-1zM577 502h1v1h-1zM577 503h1v1h-1zM600 491h9v1h-9zM601 492h1v1h-1zM607 492h1v1h-1zM601 493h1v1h-1zM607 493h1v1h-1zM601 494h1v1h-1zM607 494h1v1h-1zM602 495h1v1h-1zM606 495h1v1h-1zM602 496h1v1h-1zM606 496h1v1h-1zM603 497h1v1h-1zM605 497h1v1h-1zM603 498h1v1h-1zM605 498h1v1h-1zM604 499h1v1h-1zM604 500h1v1h-1zM593 502h9v1h-9zM594 503h1v1h-1zM600 503h1v1h-1zM594 504h1v1h-1zM600 504h1v1h-1zM594 505h1v1h-1zM600 505h1v1h-1zM595 506h1v1h-1zM599 506h1v1h-1zM595 507h1v1h-1zM599 507h1v1h-1zM596 508h1v1h-1zM598 508h1v1h-1zM596 509h1v1h-1zM598 509h1v1h-1zM597 510h1v1h-1zM597 511h1v1h-1zM467 518h9v1h-9zM468 519h1v1h-1zM474 519h1v1h-1zM468 520h1v1h-1zM474 520h1v1h-1zM468 521h1v1h-1zM474 521h1v1h-1zM469 522h1v1h-1zM473 522h1v1h-1zM469 523h1v1h-1zM473 523h1v1h-1zM470 524h1v1h-1zM472 524h1v1h-1zM470 525h1v1h-1zM472 525h1v1h-1zM471 526h1v1h-1zM471 527h1v1h-1zM459 524h9v1h-9zM460 525h1v1h-1zM466 525h1v1h-1zM460 526h1v1h-1zM466 526h1v1h-1zM460 527h1v1h-1zM466 527h1v1h-1zM461 528h1v1h-1zM465 528h1v1h-1zM461 529h1v1h-1zM465 529h1v1h-1zM462 530h1v1h-1zM464 530h1v1h-1zM462 531h1v1h-1zM464 531h1v1h-1zM463 532h1v1h-1zM463 533h1v1h-1zM451 528h9v1h-9zM452 529h1v1h-1zM458 529h1v1h-1zM452 530h1v1h-1zM458 530h1v1h-1zM452 531h1v1h-1zM458 531h1v1h-1zM453 532h1v1h-1zM457 532h1v1h-1zM453 533h1v1h-1zM457 533h1v1h-1zM454 534h1v1h-1zM456 534h1v1h-1zM454 535h1v1h-1zM456 535h1v1h-1zM455 536h1v1h-1zM455 537h1v1h-1zM457 552h9v1h-9zM458 553h1v1h-1zM464 553h1v1h-1zM458 554h1v1h-1zM464 554h1v1h-1zM458 555h1v1h-1zM464 555h1v1h-1zM459 556h1v1h-1zM463 556h1v1h-1zM459 557h1v1h-1zM463 557h1v1h-1zM460 558h1v1h-1zM462 558h1v1h-1zM460 559h1v1h-1zM462 559h1v1h-1zM461 560h1v1h-1zM461 561h1v1h-1zM395 567h9v1h-9zM396 568h1v1h-1zM402 568h1v1h-1zM396 569h1v1h-1zM402 569h1v1h-1zM396 570h1v1h-1zM402 570h1v1h-1zM397 571h1v1h-1zM401 571h1v1h-1zM397 572h1v1h-1zM401 572h1v1h-1zM398 573h1v1h-1zM400 573h1v1h-1zM398 574h1v1h-1zM400 574h1v1h-1zM399 575h1v1h-1zM399 576h1v1h-1zM415 578h9v1h-9zM416 579h1v1h-1zM422 579h1v1h-1zM416 580h1v1h-1zM422 580h1v1h-1zM416 581h1v1h-1zM422 581h1v1h-1zM417 582h1v1h-1zM421 582h1v1h-1zM417 583h1v1h-1zM421 583h1v1h-1zM418 584h1v1h-1zM420 584h1v1h-1zM418 585h1v1h-1zM420 585h1v1h-1zM419 586h1v1h-1zM419 587h1v1h-1zM457 579h9v1h-9zM458 580h1v1h-1zM464 580h1v1h-1zM458 581h1v1h-1zM464 581h1v1h-1zM458 582h1v1h-1zM464 582h1v1h-1zM459 583h1v1h-1zM463 583h1v1h-1zM459 584h1v1h-1zM463 584h1v1h-1zM460 585h1v1h-1zM462 585h1v1h-1zM460 586h1v1h-1zM462 586h1v1h-1zM461 587h1v1h-1zM461 588h1v1h-1zM511 581h9v1h-9zM512 582h1v1h-1zM518 582h1v1h-1zM512 583h1v1h-1zM518 583h1v1h-1zM512 584h1v1h-1zM518 584h1v1h-1zM513 585h1v1h-1zM517 585h1v1h-1zM513 586h1v1h-1zM517 586h1v1h-1zM514 587h1v1h-1zM516 587h1v1h-1zM514 588h1v1h-1zM516 588h1v1h-1zM515 589h1v1h-1zM515 590h1v1h-1zM614 387h9v1h-9zM615 388h1v1h-1zM621 388h1v1h-1zM615 389h1v1h-1zM621 389h1v1h-1zM615 390h1v1h-1zM621 390h1v1h-1zM616 391h1v1h-1zM620 391h1v1h-1zM616 392h1v1h-1zM620 392h1v1h-1zM617 393h1v1h-1zM619 393h1v1h-1zM617 394h1v1h-1zM619 394h1v1h-1zM618 395h1v1h-1zM618 396h1v1h-1zM626 386h9v1h-9zM627 387h1v1h-1zM633 387h1v1h-1zM627 388h1v1h-1zM633 388h1v1h-1zM627 389h1v1h-1zM633 389h1v1h-1zM628 390h1v1h-1zM632 390h1v1h-1zM628 391h1v1h-1zM632 391h1v1h-1zM629 392h1v1h-1zM631 392h1v1h-1zM629 393h1v1h-1zM631 393h1v1h-1zM630 394h1v1h-1zM630 395h1v1h-1zM638 387h9v1h-9zM639 388h1v1h-1zM645 388h1v1h-1zM639 389h1v1h-1zM645 389h1v1h-1zM639 390h1v1h-1zM645 390h1v1h-1zM640 391h1v1h-1zM644 391h1v1h-1zM640 392h1v1h-1zM644 392h1v1h-1zM641 393h1v1h-1zM643 393h1v1h-1zM641 394h1v1h-1zM643 394h1v1h-1zM642 395h1v1h-1zM642 396h1v1h-1zM642 408h9v1h-9zM643 409h1v1h-1zM649 409h1v1h-1zM643 410h1v1h-1zM649 410h1v1h-1zM643 411h1v1h-1zM649 411h1v1h-1zM644 412h1v1h-1zM648 412h1v1h-1zM644 413h1v1h-1zM648 413h1v1h-1zM645 414h1v1h-1zM647 414h1v1h-1zM645 415h1v1h-1zM647 415h1v1h-1zM646 416h1v1h-1zM646 417h1v1h-1zM638 428h9v1h-9zM639 429h1v1h-1zM645 429h1v1h-1zM639 430h1v1h-1zM645 430h1v1h-1zM639 431h1v1h-1zM645 431h1v1h-1zM640 432h1v1h-1zM644 432h1v1h-1zM640 433h1v1h-1zM644 433h1v1h-1zM641 434h1v1h-1zM643 434h1v1h-1zM641 435h1v1h-1zM643 435h1v1h-1zM642 436h1v1h-1zM642 437h1v1h-1zM651 425h9v1h-9zM652 426h1v1h-1zM658 426h1v1h-1zM652 427h1v1h-1zM658 427h1v1h-1zM652 428h1v1h-1zM658 428h1v1h-1zM653 429h1v1h-1zM657 429h1v1h-1zM653 430h1v1h-1zM657 430h1v1h-1zM654 431h1v1h-1zM656 431h1v1h-1zM654 432h1v1h-1zM656 432h1v1h-1zM655 433h1v1h-1zM655 434h1v1h-1zM615 444h9v1h-9zM616 445h1v1h-1zM622 445h1v1h-1zM616 446h1v1h-1zM622 446h1v1h-1zM616 447h1v1h-1zM622 447h1v1h-1zM617 448h1v1h-1zM621 448h1v1h-1zM617 449h1v1h-1zM621 449h1v1h-1zM618 450h1v1h-1zM620 450h1v1h-1zM618 451h1v1h-1zM620 451h1v1h-1zM619 452h1v1h-1zM619 453h1v1h-1zM619 452h9v1h-9zM620 453h1v1h-1zM626 453h1v1h-1zM620 454h1v1h-1zM626 454h1v1h-1zM620 455h1v1h-1zM626 455h1v1h-1zM621 456h1v1h-1zM625 456h1v1h-1zM621 457h1v1h-1zM625 457h1v1h-1zM622 458h1v1h-1zM624 458h1v1h-1zM622 459h1v1h-1zM624 459h1v1h-1zM623 460h1v1h-1zM623 461h1v1h-1zM713 432h9v1h-9zM714 433h1v1h-1zM720 433h1v1h-1zM714 434h1v1h-1zM720 434h1v1h-1zM714 435h1v1h-1zM720 435h1v1h-1zM715 436h1v1h-1zM719 436h1v1h-1zM715 437h1v1h-1zM719 437h1v1h-1zM716 438h1v1h-1zM718 438h1v1h-1zM716 439h1v1h-1zM718 439h1v1h-1zM717 440h1v1h-1zM717 441h1v1h-1zM773 439h9v1h-9zM774 440h1v1h-1zM780 440h1v1h-1zM774 441h1v1h-1zM780 441h1v1h-1zM774 442h1v1h-1zM780 442h1v1h-1zM775 443h1v1h-1zM779 443h1v1h-1zM775 444h1v1h-1zM779 444h1v1h-1zM776 445h1v1h-1zM778 445h1v1h-1zM776 446h1v1h-1zM778 446h1v1h-1zM777 447h1v1h-1zM777 448h1v1h-1zM625 488h9v1h-9zM626 489h1v1h-1zM632 489h1v1h-1zM626 490h1v1h-1zM632 490h1v1h-1zM626 491h1v1h-1zM632 491h1v1h-1zM627 492h1v1h-1zM631 492h1v1h-1zM627 493h1v1h-1zM631 493h1v1h-1zM628 494h1v1h-1zM630 494h1v1h-1zM628 495h1v1h-1zM630 495h1v1h-1zM629 496h1v1h-1zM629 497h1v1h-1zM671 490h9v1h-9zM672 491h1v1h-1zM678 491h1v1h-1zM672 492h1v1h-1zM678 492h1v1h-1zM672 493h1v1h-1zM678 493h1v1h-1zM673 494h1v1h-1zM677 494h1v1h-1zM673 495h1v1h-1zM677 495h1v1h-1zM674 496h1v1h-1zM676 496h1v1h-1zM674 497h1v1h-1zM676 497h1v1h-1zM675 498h1v1h-1zM675 499h1v1h-1zM684 509h9v1h-9zM685 510h1v1h-1zM691 510h1v1h-1zM685 511h1v1h-1zM691 511h1v1h-1zM685 512h1v1h-1zM691 512h1v1h-1zM686 513h1v1h-1zM690 513h1v1h-1zM686 514h1v1h-1zM690 514h1v1h-1zM687 515h1v1h-1zM689 515h1v1h-1zM687 516h1v1h-1zM689 516h1v1h-1zM688 517h1v1h-1zM688 518h1v1h-1zM627 509h9v1h-9zM628 510h1v1h-1zM634 510h1v1h-1zM628 511h1v1h-1zM634 511h1v1h-1zM628 512h1v1h-1zM634 512h1v1h-1zM629 513h1v1h-1zM633 513h1v1h-1zM629 514h1v1h-1zM633 514h1v1h-1zM630 515h1v1h-1zM632 515h1v1h-1zM630 516h1v1h-1zM632 516h1v1h-1zM631 517h1v1h-1zM631 518h1v1h-1zM631 533h9v1h-9zM632 534h1v1h-1zM638 534h1v1h-1zM632 535h1v1h-1zM638 535h1v1h-1zM632 536h1v1h-1zM638 536h1v1h-1zM633 537h1v1h-1zM637 537h1v1h-1zM633 538h1v1h-1zM637 538h1v1h-1zM634 539h1v1h-1zM636 539h1v1h-1zM634 540h1v1h-1zM636 540h1v1h-1zM635 541h1v1h-1zM635 542h1v1h-1zM367 675h9v1h-9zM368 676h1v1h-1zM374 676h1v1h-1zM368 677h1v1h-1zM374 677h1v1h-1zM368 678h1v1h-1zM374 678h1v1h-1zM369 679h1v1h-1zM373 679h1v1h-1zM369 680h1v1h-1zM373 680h1v1h-1zM370 681h1v1h-1zM372 681h1v1h-1zM370 682h1v1h-1zM372 682h1v1h-1zM371 683h1v1h-1zM371 684h1v1h-1zM521 610h9v1h-9zM522 611h1v1h-1zM528 611h1v1h-1zM522 612h1v1h-1zM528 612h1v1h-1zM522 613h1v1h-1zM528 613h1v1h-1zM523 614h1v1h-1zM527 614h1v1h-1zM523 615h1v1h-1zM527 615h1v1h-1zM524 616h1v1h-1zM526 616h1v1h-1zM524 617h1v1h-1zM526 617h1v1h-1zM525 618h1v1h-1zM525 619h1v1h-1zM454 625h9v1h-9zM455 626h1v1h-1zM461 626h1v1h-1zM455 627h1v1h-1zM461 627h1v1h-1zM455 628h1v1h-1zM461 628h1v1h-1zM456 629h1v1h-1zM460 629h1v1h-1zM456 630h1v1h-1zM460 630h1v1h-1zM457 631h1v1h-1zM459 631h1v1h-1zM457 632h1v1h-1zM459 632h1v1h-1zM458 633h1v1h-1zM458 634h1v1h-1zM498 627h9v1h-9zM499 628h1v1h-1zM505 628h1v1h-1zM499 629h1v1h-1zM505 629h1v1h-1zM499 630h1v1h-1zM505 630h1v1h-1zM500 631h1v1h-1zM504 631h1v1h-1zM500 632h1v1h-1zM504 632h1v1h-1zM501 633h1v1h-1zM503 633h1v1h-1zM501 634h1v1h-1zM503 634h1v1h-1zM502 635h1v1h-1zM502 636h1v1h-1zM422 646h9v1h-9zM423 647h1v1h-1zM429 647h1v1h-1zM423 648h1v1h-1zM429 648h1v1h-1zM423 649h1v1h-1zM429 649h1v1h-1zM424 650h1v1h-1zM428 650h1v1h-1zM424 651h1v1h-1zM428 651h1v1h-1zM425 652h1v1h-1zM427 652h1v1h-1zM425 653h1v1h-1zM427 653h1v1h-1zM426 654h1v1h-1zM426 655h1v1h-1zM548 649h9v1h-9zM549 650h1v1h-1zM555 650h1v1h-1zM549 651h1v1h-1zM555 651h1v1h-1zM549 652h1v1h-1zM555 652h1v1h-1zM550 653h1v1h-1zM554 653h1v1h-1zM550 654h1v1h-1zM554 654h1v1h-1zM551 655h1v1h-1zM553 655h1v1h-1zM551 656h1v1h-1zM553 656h1v1h-1zM552 657h1v1h-1zM552 658h1v1h-1zM601 645h9v1h-9zM602 646h1v1h-1zM608 646h1v1h-1zM602 647h1v1h-1zM608 647h1v1h-1zM602 648h1v1h-1zM608 648h1v1h-1zM603 649h1v1h-1zM607 649h1v1h-1zM603 650h1v1h-1zM607 650h1v1h-1zM604 651h1v1h-1zM606 651h1v1h-1zM604 652h1v1h-1zM606 652h1v1h-1zM605 653h1v1h-1zM605 654h1v1h-1zM537 744h9v1h-9zM538 745h1v1h-1zM544 745h1v1h-1zM538 746h1v1h-1zM544 746h1v1h-1zM538 747h1v1h-1zM544 747h1v1h-1zM539 748h1v1h-1zM543 748h1v1h-1zM539 749h1v1h-1zM543 749h1v1h-1zM540 750h1v1h-1zM542 750h1v1h-1zM540 751h1v1h-1zM542 751h1v1h-1zM541 752h1v1h-1zM541 753h1v1h-1zM638 631h9v1h-9zM639 632h1v1h-1zM645 632h1v1h-1zM639 633h1v1h-1zM645 633h1v1h-1zM639 634h1v1h-1zM645 634h1v1h-1zM640 635h1v1h-1zM644 635h1v1h-1zM640 636h1v1h-1zM644 636h1v1h-1zM641 637h1v1h-1zM643 637h1v1h-1zM641 638h1v1h-1zM643 638h1v1h-1zM642 639h1v1h-1zM642 640h1v1h-1zM777 674h9v1h-9zM778 675h1v1h-1zM784 675h1v1h-1zM778 676h1v1h-1zM784 676h1v1h-1zM778 677h1v1h-1zM784 677h1v1h-1zM779 678h1v1h-1zM783 678h1v1h-1zM779 679h1v1h-1zM783 679h1v1h-1zM780 680h1v1h-1zM782 680h1v1h-1zM780 681h1v1h-1zM782 681h1v1h-1zM781 682h1v1h-1zM781 683h1v1h-1zM668 761h9v1h-9zM669 762h1v1h-1zM675 762h1v1h-1zM669 763h1v1h-1zM675 763h1v1h-1zM669 764h1v1h-1zM675 764h1v1h-1zM670 765h1v1h-1zM674 765h1v1h-1zM670 766h1v1h-1zM674 766h1v1h-1zM671 767h1v1h-1zM673 767h1v1h-1zM671 768h1v1h-1zM673 768h1v1h-1zM672 769h1v1h-1zM672 770h1v1h-1zM672 775h9v1h-9zM673 776h1v1h-1zM679 776h1v1h-1zM673 777h1v1h-1zM679 777h1v1h-1zM673 778h1v1h-1zM679 778h1v1h-1zM674 779h1v1h-1zM678 779h1v1h-1zM674 780h1v1h-1zM678 780h1v1h-1zM675 781h1v1h-1zM677 781h1v1h-1zM675 782h1v1h-1zM677 782h1v1h-1zM676 783h1v1h-1zM676 784h1v1h-1z"/>
<path fill="#000" stroke="none" d="M287 308h1v1h-1zM287 317h1v1h-1zM288 308h1v1h-1zM288 317h1v1h-1zM289 308h1v1h-1zM289 317h1v1h-1zM290 308h1v1h-1zM290 317h1v1h-1zM291 308h1v1h-1zM291 317h1v1h-1zM292 308h1v1h-1zM292 317h1v1h-1zM293 308h1v1h-1zM293 317h1v1h-1zM294 308h1v1h-1zM294 317h1v1h-1zM295 308h1v1h-1zM295 317h1v1h-1zM287 309h1v1h-1zM295 309h1v1h-1zM287 310h1v1h-1zM295 310h1v1h-1zM287 311h1v1h-1zM295 311h1v1h-1zM287 312h1v1h-1zM295 312h1v1h-1zM287 313h1v1h-1zM295 313h1v1h-1zM287 314h1v1h-1zM295 314h1v1h-1zM287 315h1v1h-1zM295 315h1v1h-1zM287 316h1v1h-1zM295 316h1v1h-1zM542 546h1v1h-1zM539 547h1v1h-1zM540 547h1v1h-1zM541 547h1v1h-1zM543 547h1v1h-1zM544 547h1v1h-1zM545 547h1v1h-1zM538 548h1v1h-1zM546 548h1v1h-1zM538 549h1v1h-1zM546 549h1v1h-1zM538 550h1v1h-1zM546 550h1v1h-1zM539 551h1v1h-1zM545 551h1v1h-1zM539 552h1v1h-1zM545 552h1v1h-1zM539 553h1v1h-1zM545 553h1v1h-1zM540 554h1v1h-1zM541 554h1v1h-1zM542 554h1v1h-1zM543 554h1v1h-1zM544 554h1v1h-1zM699 801h1v1h-1zM696 802h1v1h-1zM697 802h1v1h-1zM698 802h1v1h-1zM700 802h1v1h-1zM701 802h1v1h-1zM702 802h1v1h-1zM695 803h1v1h-1zM703 803h1v1h-1zM695 804h1v1h-1zM703 804h1v1h-1zM695 805h1v1h-1zM703 805h1v1h-1zM696 806h1v1h-1zM702 806h1v1h-1zM696 807h1v1h-1zM702 807h1v1h-1zM696 808h1v1h-1zM702 808h1v1h-1zM697 809h1v1h-1zM698 809h1v1h-1zM700 809h1v1h-1zM701 809h1v1h-1zM699 810h1v1h-1z"/>
<path d="M181.5 159.5 L817.5 159.5 L817.5 839.5 L181.5 839.5Z" stroke="#000"/>
</g>
<path fill="#000" stroke="none" d="M181 826h1v13h-1zM181 160h1v14h-1zM198 832h1v7h-1zM198 160h1v7h-1zM216 832h1v7h-1zM216 160h1v7h-1zM234 832h1v7h-1zM234 160h1v7h-1zM251 826h1v13h-1zM251 160h1v14h-1zM269 832h1v7h-1zM269 160h1v7h-1zM287 832h1v7h-1zM287 160h1v7h-1zM304 832h1v7h-1zM304 160h1v7h-1zM322 826h1v13h-1zM322 160h1v14h-1zM340 832h1v7h-1zM340 160h1v7h-1zM357 832h1v7h-1zM357 160h1v7h-1zM375 832h1v7h-1zM375 160h1v7h-1zM393 826h1v13h-1zM393 160h1v14h-1zM411 832h1v7h-1zM411 160h1v7h-1zM428 832h1v7h-1zM428 160h1v7h-1zM446 832h1v7h-1zM446 160h1v7h-1zM464 826h1v13h-1zM464 160h1v14h-1zM481 832h1v7h-1zM481 160h1v7h-1zM499 832h1v7h-1zM499 160h1v7h-1zM517 832h1v7h-1zM517 160h1v7h-1zM534 826h1v13h-1zM534 160h1v14h-1zM552 832h1v7h-1zM552 160h1v7h-1zM570 832h1v7h-1zM570 160h1v7h-1zM587 832h1v7h-1zM587 160h1v7h-1zM605 826h1v13h-1zM605 160h1v14h-1zM623 832h1v7h-1zM623 160h1v7h-1zM641 832h1v7h-1zM641 160h1v7h-1zM658 832h1v7h-1zM658 160h1v7h-1zM676 826h1v13h-1zM676 160h1v14h-1zM694 832h1v7h-1zM694 160h1v7h-1zM711 832h1v7h-1zM711 160h1v7h-1zM729 832h1v7h-1zM729 160h1v7h-1zM747 826h1v13h-1zM747 160h1v14h-1zM764 832h1v7h-1zM764 160h1v7h-1zM782 832h1v7h-1zM782 160h1v7h-1zM800 832h1v7h-1zM800 160h1v7h-1zM817 826h1v13h-1zM817 160h1v14h-1zM182 839h13v1h-13zM804 839h13v1h-13zM182 821h6v1h-6zM811 821h6v1h-6zM182 803h6v1h-6zM811 803h6v1h-6zM182 786h6v1h-6zM811 786h6v1h-6zM182 768h13v1h-13zM804 768h13v1h-13zM182 750h6v1h-6zM811 750h6v1h-6zM182 733h6v1h-6zM811 733h6v1h-6zM182 715h6v1h-6zM811 715h6v1h-6zM182 697h13v1h-13zM804 697h13v1h-13zM182 679h6v1h-6zM811 679h6v1h-6zM182 662h6v1h-6zM811 662h6v1h-6zM182 644h6v1h-6zM811 644h6v1h-6zM182 626h13v1h-13zM804 626h13v1h-13zM182 609h6v1h-6zM811 609h6v1h-6zM182 591h6v1h-6zM811 591h6v1h-6zM182 573h6v1h-6zM811 573h6v1h-6zM182 556h13v1h-13zM804 556h13v1h-13zM182 538h6v1h-6zM811 538h6v1h-6zM182 520h6v1h-6zM811 520h6v1h-6zM182 503h6v1h-6zM811 503h6v1h-6zM182 485h13v1h-13zM804 485h13v1h-13zM182 467h6v1h-6zM811 467h6v1h-6zM182 450h6v1h-6zM811 450h6v1h-6zM182 432h6v1h-6zM811 432h6v1h-6zM182 414h13v1h-13zM804 414h13v1h-13zM182 396h6v1h-6zM811 396h6v1h-6zM182 379h6v1h-6zM811 379h6v1h-6zM182 361h6v1h-6zM811 361h6v1h-6zM182 343h13v1h-13zM804 343h13v1h-13zM182 326h6v1h-6zM811 326h6v1h-6zM182 308h6v1h-6zM811 308h6v1h-6zM182 290h6v1h-6zM811 290h6v1h-6zM182 273h13v1h-13zM804 273h13v1h-13zM182 255h6v1h-6zM811 255h6v1h-6zM182 237h6v1h-6zM811 237h6v1h-6zM182 220h6v1h-6zM811 220h6v1h-6zM182 202h13v1h-13zM804 202h13v1h-13zM182 184h6v1h-6zM811 184h6v1h-6zM182 166h6v1h-6zM811 166h6v1h-6z"/>
<g>
</g>
<path d="M204 25 200.5 20.5 195.5 20.5 191.5 24.5 190.5 27 190.5 32.5 191.5 34.5 195.5 38.5 200.5 38.5 204 34.5M208.5 38.5 215 20.5 216 20.5 222.5 38.5M212 32.5 219 32.5M240 23.5 236.5 20.5 231.5 20.5 227.5 23.5 227.5 26 231.5 29.5 237.5 32 240.5 34.5 240.5 36.5 237.5 38.5 231 38.5 227.5 36.5M244.5 38.5 251 20.5 252 20.5 258.5 38.5M248 32.5 255 32.5M279.5 20.5 286.5 20.5 291 24.5 292 27 292 32.5 290 36.5 287.5 38.5 279.5 38.5 279.5 20.5M309.5 20.5 297.5 20.5 297.5 38.5M297.5 30 305.5 30M313.5 20.5 318 38.5 322.5 20.5 327 38.5 331.5 20.5M363 33 349.5 33 358 20.5 358 38.5M370 20.5 375.5 20.5 378 23.5 379 26.5 379 32.5 378 35.5 375.5 38.5 370 38.5 367.5 35.5 366.5 32.5 366.5 26.5 367.5 23.5 370 20.5M386.6 20.5 392.1 20.5 394.6 23.5 395.6 26.5 395.6 32.5 394.6 35.5 392.1 38.5 386.6 38.5 384.1 35.5 383.1 32.5 383.1 26.5 384.1 23.5 386.6 20.5M400.5 26.5 400.5 38.5M400.5 30 404 26.5 407.5 26.5 410.5 29 410.5 38.5M410.5 29 414 26.5 417.5 26.5 420 29 420 38.5M449 17.5 444 22.5 442.5 26.5 442.5 33.5 444 38.5 449 45M468 33 454.5 33 463 20.5 463 38.5M482.1 20.5 472.1 20.5 472.1 29 475.6 27 480.1 27 483.6 30.5 483.6 35.5 481.1 38.5 474.6 38.5 471.1 35.5M492 20.5 497.5 20.5 500 23.5 501 26.5 501 32.5 500 35.5 497.5 38.5 492 38.5 489.5 35.5 488.5 32.5 488.5 26.5 489.5 23.5 492 20.5M505.5 26.5 515.5 38.5M515.5 26.5 505.5 38.5M532.6 33 519.1 33 527.6 20.5 527.6 38.5M540.1 20.5 546.6 20.5 549.1 23 549.1 27 546.6 29.5 540.1 29.5 537.6 27 537.6 23 540.1 20.5M540.1 29.5 537.6 31.5 537.1 33.5 537.1 36.5 539.6 38.5 547.1 38.5 549.6 36.5 549.6 33.5 548.6 31.5 546.6 29.5M557.6 20.5 563.1 20.5 565.6 23.5 566.6 26.5 566.6 32.5 565.6 35.5 563.1 38.5 557.6 38.5 555.1 35.5 554.1 32.5 554.1 26.5 555.1 23.5 557.6 20.5M571.5 26.5 581.5 38.5M581.5 26.5 571.5 38.5M586.5 23.5 590 20.5 594 20.5 597.5 23.5 597.5 28 595 31.5 585.5 38.5 598 38.5M613.7 20.5 603.7 20.5 603.7 29 607.2 27 611.7 27 615.2 30.5 615.2 35.5 612.7 38.5 606.2 38.5 602.7 35.5M622.4 37 622.4 39.5 619.4 43M655.7 20.5 655.7 38.5M655.7 27.5 652.7 26.5 647.7 26.5 644.7 30 644.7 35.5 647.7 38.5 655.7 38.5M660.5 26.5 670.5 38.5M670.5 26.5 660.5 38.5M675.5 29 691.5 29M675.5 33.5 691.5 33.5M700.7 20.5 706.2 20.5 708.7 23.5 709.7 26.5 709.7 32.5 708.7 35.5 706.2 38.5 700.7 38.5 698.2 35.5 697.2 32.5 697.2 26.5 698.2 23.5 700.7 20.5M714.5 37.5 717.5 37.5M716 37.5 716 38.5M736.2 33 722.7 33 731.2 20.5 731.2 38.5M756.5 20.5 756.5 38.5M764.5 26.5 756.5 35M759.5 32.5 765.5 38.5M770.7 26.5 770.7 38.5M770.7 30 774.2 26.5 777.7 26.5 780.7 29 780.7 38.5M780.7 29 784.2 26.5 787.7 26.5 790.2 29 790.2 38.5M796.2 17.5 799.7 21.5 802.7 27 802.7 33 801.2 38.5 797.7 43.5 796.2 45M258.5 77.5 265 59.5 266 59.5 272.5 77.5M262 71.5 269 71.5M276.5 65.5 276.5 77.5M276.5 68.5 279.5 65.5 284.5 65.5 287 68 287 77.5M304 65.5 304 77.5M304 66.5 301.5 65.5 296.5 65.5 293.5 69 293.5 74.5 296.5 77.5 304 77.5M310 59.5 310 77.5M316.5 65.5 322.8 77.5M328.2 65.5 322.8 77.5 321.5 80 316.5 83.5M340 68 338 65.5 331.5 65.5 329.5 67.5 329.5 69.5 332 71 338 71.5 340.5 73.5 340.5 76 338 77.5 331.5 77.5 329.5 75M345.5 65.5 345.5 77.5M344.5 61 346 60 346 59.5M362 68 360 65.5 353.5 65.5 351.5 67.5 351.5 69.5 354 71 360 71.5 362.5 73.5 362.5 76 360 77.5 353.5 77.5 351.5 75M389.5 59.5 386.5 59.5 385 61.5 385 77.5M381.5 65.5 388.5 65.5M395.5 65.5 401.5 65.5 404.5 68.5 404.5 74.5 401.5 77.5 395.5 77.5 392.5 74.5 392.5 68.5 395.5 65.5M408.5 65.5 408.5 77.5M408.5 69 411.5 65.5 416.5 65.5M435.5 62.5 440 59.5 440 77.5M463 72 449.5 72 458 59.5 458 77.5M467 59.5 479.5 59.5 466.5 77.5 479.5 77.5M512 62.5 508.5 59.5 503.5 59.5 499.5 62.5 499.5 65 503.5 68.5 509.5 71 512.5 73.5 512.5 75.5 509.5 77.5 503 77.5 499.5 75.5M527.6 65.5 527.6 77.5M527.6 66.5 525.1 65.5 520.1 65.5 517.1 69 517.1 74.5 520.1 77.5 527.6 77.5M535.6 59.5 535.6 76 537.1 77.5 540.1 77.5M532.1 65.5 540.1 65.5M561.9 62.5 565.4 59.5 569.4 59.5 572.9 62.5 572.9 67 570.4 70.5 560.9 77.5 573.4 77.5M580.7 59.5 587.2 59.5 589.7 62 589.7 66 587.2 68.5 580.7 68.5 578.2 66 578.2 62 580.7 59.5M580.7 68.5 578.2 70.5 577.7 72.5 577.7 75.5 580.2 77.5 587.7 77.5 590.2 75.5 590.2 72.5 589.2 70.5 587.2 68.5M623.9 62.5 620.4 59.5 615.4 59.5 611.4 62.5 611.4 65 615.4 68.5 621.4 71 624.4 73.5 624.4 75.5 621.4 77.5 614.9 77.5 611.4 75.5M628.5 71.5 640.5 71.5 640.5 68.5 637.5 65.5 631.5 65.5 628.5 68.5 628.5 74.5 631.5 77.5 637.5 77.5 640.5 75.5M643.2 65.5 643.2 84M643.2 68.5 646.2 65.5 651.7 65.5 654.2 68.5 654.2 74.5 651.2 77.5 646.2 77.5 643.2 74.5M677.1 62.5 680.6 59.5 684.6 59.5 688.1 62.5 688.1 67 685.6 70.5 676.1 77.5 688.6 77.5M697 59.5 702.5 59.5 705 62.5 706 65.5 706 71.5 705 74.5 702.5 77.5 697 77.5 694.5 74.5 693.5 71.5 693.5 65.5 694.5 62.5 697 59.5M711.1 62.5 715.6 59.5 715.6 77.5M735.7 67.5 733.2 71 726.7 71 723.7 68 723.7 62.5 726.7 59.5 733.2 59.5 735.7 62.5 735.7 74.5 733.2 77.5 726.7 77.5 724.2 75.5M296.5 141.33 299.06 139.5 299.06 150.5M313.39 147.14 305.7 147.14 310.55 139.5 310.55 150.5M317.21 143.17 316.36 144.39M317.21 148.97 316.36 150.81M322.7 141.33 325.26 139.5 325.26 150.5M333.6 139.5 336.73 139.5 338.16 141.33 338.73 143.17 338.73 146.83 338.16 148.67 336.73 150.5 333.6 150.5 332.17 148.67 331.6 146.83 331.6 143.17 332.17 141.33 333.6 139.5M351.79 139.5 358.91 139.5 351.5 150.5 358.91 150.5M378.62 141.33 376.63 139.5 373.78 139.5 371.5 141.33 371.5 142.86 373.78 145 377.2 146.53 378.91 148.06 378.91 149.28 377.2 150.5 373.5 150.5 371.5 149.28M387.49 143.17 387.49 150.5M387.49 143.78 386.06 143.17 383.21 143.17 381.5 145.31 381.5 148.67 383.21 150.5 387.49 150.5M392.5 139.5 392.5 149.58 393.35 150.5 395.06 150.5M390.5 143.17 395.06 143.17M408.07 141.33 410.06 139.5 412.35 139.5 414.34 141.33 414.34 144.08 412.92 146.22 407.5 150.5 414.62 150.5M420.21 139.5 423.92 139.5 425.34 141.03 425.34 143.47 423.92 145 420.21 145 418.79 143.47 418.79 141.03 420.21 139.5M420.21 145 418.79 146.22 418.5 147.44 418.5 149.28 419.93 150.5 424.2 150.5 425.62 149.28 425.62 147.44 425.06 146.22 423.92 145M445.62 141.33 443.63 139.5 440.78 139.5 438.5 141.33 438.5 142.86 440.78 145 444.2 146.53 445.91 148.06 445.91 149.28 444.2 150.5 440.5 150.5 438.5 149.28M448.5 146.83 455.34 146.83 455.34 145 453.63 143.17 450.21 143.17 448.5 145 448.5 148.67 450.21 150.5 453.63 150.5 455.34 149.28M457.5 143.17 457.5 154.47M457.5 145 459.21 143.17 462.35 143.17 463.77 145 463.77 148.67 462.06 150.5 459.21 150.5 457.5 148.67M477.07 141.33 479.06 139.5 481.35 139.5 483.34 141.33 483.34 144.08 481.92 146.22 476.5 150.5 483.62 150.5M489.5 139.5 492.63 139.5 494.06 141.33 494.62 143.17 494.62 146.83 494.06 148.67 492.63 150.5 489.5 150.5 488.07 148.67 487.5 146.83 487.5 143.17 488.07 141.33 489.5 139.5M497.5 141.33 500.06 139.5 500.06 150.5M512.34 144.39 510.92 146.53 507.21 146.53 505.5 144.69 505.5 141.33 507.21 139.5 510.92 139.5 512.34 141.33 512.34 148.67 510.92 150.5 507.21 150.5 505.79 149.28M545.5 139.5 552.91 139.5M549.21 139.5 549.21 150.5M554.5 144.69 563.62 144.69M554.5 147.44 563.62 147.44M569.5 139.5 572.63 139.5 574.05 141.33 574.62 143.17 574.62 146.83 574.05 148.67 572.63 150.5 569.5 150.5 568.07 148.67 567.5 146.83 567.5 143.17 568.07 141.33 569.5 139.5M577.5 149.89 579.21 149.89M578.36 149.89 578.36 150.5M584.5 139.5 587.63 139.5 589.05 141.33 589.62 143.17 589.62 146.83 589.05 148.67 587.63 150.5 584.5 150.5 583.07 148.67 582.5 146.83 582.5 143.17 583.07 141.33 584.5 139.5M608.49 144.69 607.35 143.17 603.64 143.17 602.5 144.39 602.5 145.61 603.92 146.53 607.35 146.83 608.77 148.06 608.77 149.58 607.35 150.5 603.64 150.5 602.5 148.97M625.21 137.67 622.36 140.72 621.5 143.17 621.5 147.44 622.36 150.5 625.21 154.47M630.5 139.5 633.63 139.5 635.05 141.33 635.62 143.17 635.62 146.83 635.05 148.67 633.63 150.5 630.5 150.5 629.07 148.67 628.5 146.83 628.5 143.17 629.07 141.33 630.5 139.5M640.21 143.17 639.36 144.39M640.21 148.97 639.36 150.81M648.5 139.5 651.63 139.5 653.05 141.33 653.62 143.17 653.62 146.83 653.05 148.67 651.63 150.5 648.5 150.5 647.07 148.67 646.5 146.83 646.5 143.17 647.07 141.33 648.5 139.5M658.5 139.5 661.63 139.5 663.05 141.33 663.62 143.17 663.62 146.83 663.05 148.67 661.63 150.5 658.5 150.5 657.07 148.67 656.5 146.83 656.5 143.17 657.07 141.33 658.5 139.5M668.71 143.17 667.86 144.39M668.71 148.97 667.86 150.81M677 139.5 680.13 139.5 681.55 141.33 682.12 143.17 682.12 146.83 681.55 148.67 680.13 150.5 677 150.5 675.57 148.67 675 146.83 675 143.17 675.57 141.33 677 139.5M687 139.5 690.13 139.5 691.55 141.33 692.12 143.17 692.12 146.83 691.55 148.67 690.13 150.5 687 150.5 685.57 148.67 685 146.83 685 143.17 685.57 141.33 687 139.5M694.5 137.67 696.5 140.11 698.21 143.47 698.21 147.14 697.35 150.5 695.36 153.56 694.5 154.47M149.5 879.5 149.5 888.36 151.21 890.5 154.91 890.5 156.62 888.36 156.62 879.5M160.7 883.17 160.7 894.47M160.7 885 162.41 883.17 165.54 883.17 166.97 885 166.97 888.67 165.26 890.5 162.41 890.5 160.7 888.67M176.57 879.5 176.57 890.5M176.57 883.78 174.86 883.17 172.01 883.17 170.3 885.31 170.3 888.67 172.01 890.5 176.57 890.5M179.9 883.17 179.9 890.5M179.9 885.31 181.61 883.17 184.46 883.17M192.69 883.17 192.69 890.5M192.69 883.78 191.26 883.17 188.41 883.17 186.7 885.31 186.7 888.67 188.41 890.5 192.69 890.5M199.26 879.5 197.55 879.5 196.69 880.72 196.69 890.5M194.7 883.17 198.69 883.17M205.09 879.5 205.09 889.58 205.95 890.5 207.66 890.5M203.1 883.17 207.66 883.17M219.5 879.5 219.5 890.5M226.62 879.5 226.62 890.5M219.5 885 226.62 885M230.5 886.83 237.34 886.83 237.34 885 235.63 883.17 232.21 883.17 230.5 885 230.5 888.67 232.21 890.5 235.63 890.5 237.34 889.28M240 879.5 240 890.5M244.5 883.17 244.5 890.5M243.93 880.42 244.78 879.81 244.78 879.5M254.34 884.69 252.91 883.17 249.21 883.17 247.5 885 247.5 888.67 249.21 890.5 252.91 890.5 254.34 888.97M270.2 877.67 267.36 880.72 266.5 883.17 266.5 887.44 267.36 890.5 270.2 894.47M274.5 883.17 274.5 890.5M274.5 885.31 276.5 883.17 278.49 883.17 280.2 884.69 280.2 890.5M280.2 884.69 282.19 883.17 284.19 883.17 285.62 884.69 285.62 890.5M289.5 882.25 293.06 879.5 296.62 882.25M300.57 881.33 302.56 879.5 304.85 879.5 306.84 881.33 306.84 884.08 305.42 886.22 300 890.5 307.12 890.5M315.87 877.97 309.6 892.64M326.79 884.69 325.65 883.17 321.94 883.17 320.8 884.39 320.8 885.61 322.23 886.53 325.65 886.83 327.07 888.06 327.07 889.58 325.65 890.5 321.94 890.5 320.8 888.97M329.2 882.25 332.76 879.5 336.32 882.25M340.97 881.33 342.96 879.5 345.25 879.5 347.24 881.33 347.24 884.08 345.81 886.22 340.4 890.5 347.52 890.5M352.19 889.58 352.19 891.11 350.49 893.25M372.02 881.33 370.03 879.5 367.18 879.5 364.9 881.33 364.9 882.86 367.18 885 370.6 886.53 372.31 888.06 372.31 889.28 370.6 890.5 366.89 890.5 364.9 889.28M376.1 879.5 376.1 890.5M376.1 885 377.81 883.17 380.66 883.17 382.09 884.69 382.09 890.5M392.59 883.17 392.59 890.5M392.59 883.78 391.16 883.17 388.31 883.17 386.6 885.31 386.6 888.67 388.31 890.5 392.59 890.5M403.37 879.5 403.37 890.5M403.37 883.78 401.66 883.17 398.81 883.17 397.1 885.31 397.1 888.67 398.81 890.5 403.37 890.5M408.3 886.83 415.14 886.83 415.14 885 413.43 883.17 410.01 883.17 408.3 885 408.3 888.67 410.01 890.5 413.43 890.5 415.14 889.28M425.07 879.5 425.07 890.5M425.07 883.78 423.36 883.17 420.51 883.17 418.8 885.31 418.8 888.67 420.51 890.5 425.07 890.5M427.5 877.67 429.5 880.11 431.2 883.47 431.2 887.14 430.35 890.5 428.36 893.56 427.5 894.47M490.75 880 488.25 882.5 487.5 884.5 487.5 888 488.25 890.5 490.75 893.75M493.5 881.5 493.5 890.5M497.5 884.5 493.5 888.75M495 887.5 498 890.5M500.5 884.5 500.5 890.5M500.5 886.25 502.25 884.5 504 884.5 505.5 885.75 505.5 890.5M505.5 885.75 507.25 884.5 509 884.5 510.25 885.75 510.25 890.5M513.5 880 515.25 882 516.75 884.75 516.75 887.75 516 890.5 514.25 893 513.5 893.75M673.5 890.5 673.5 879.5 677.49 890.5 681.48 879.5 681.48 890.5M687 883.17 687 890.5M686.43 880.42 687.28 879.81 687.28 879.5M690.5 883.17 690.5 890.5M690.5 885 692.21 883.17 695.06 883.17 696.49 884.69 696.49 890.5M699.5 884.69 708.62 884.69M699.5 887.44 708.62 887.44M713.5 885.92 722.62 885.92M734.7 887.14 727 887.14 731.85 879.5 731.85 890.5M736 889.89 737.71 889.89M736.86 889.89 736.86 890.5M741.5 881.33 744.07 879.5 744.07 890.5M750.07 881.33 752.07 879.5 754.35 879.5 756.34 881.33 756.34 884.08 754.91 886.22 749.5 890.5 756.62 890.5M769.5 890.5 769.5 879.5 773.49 890.5 777.48 879.5 777.48 890.5M788.49 883.17 788.49 890.5M788.49 883.78 787.06 883.17 784.21 883.17 782.5 885.31 782.5 888.67 784.21 890.5 788.49 890.5M792 883.17 797.7 890.5M797.7 883.17 792 890.5M800 884.69 809.12 884.69M800 887.44 809.12 887.44M821.2 887.14 813.5 887.14 818.35 879.5 818.35 890.5M822 889.89 823.71 889.89M822.86 889.89 822.86 890.5M831.21 879.5 834.91 879.5 836.34 881.03 836.34 883.47 834.91 885 831.21 885 829.78 883.47 829.78 881.03 831.21 879.5M831.21 885 829.78 886.22 829.5 887.44 829.5 889.28 830.92 890.5 835.2 890.5 836.62 889.28 836.62 887.44 836.05 886.22 834.91 885M842.5 879.5 845.63 879.5 847.05 881.33 847.62 883.17 847.62 886.83 847.05 888.67 845.63 890.5 842.5 890.5 841.07 888.67 840.5 886.83 840.5 883.17 841.07 881.33 842.5 879.5M178.53 849.5 181.72 849.5 183.17 851.33 183.75 853.17 183.75 856.83 183.17 858.67 181.72 860.5 178.53 860.5 177.08 858.67 176.5 856.83 176.5 853.17 177.08 851.33 178.53 849.5M242.08 851.33 244.11 849.5 246.43 849.5 248.46 851.33 248.46 854.08 247.01 856.22 241.5 860.5 248.75 860.5M253.53 849.5 256.72 849.5 258.17 851.33 258.75 853.17 258.75 856.83 258.17 858.67 256.72 860.5 253.53 860.5 252.08 858.67 251.5 856.83 251.5 853.17 252.08 851.33 253.53 849.5M320.33 857.14 312.5 857.14 317.43 849.5 317.43 860.5M324.53 849.5 327.72 849.5 329.17 851.33 329.75 853.17 329.75 856.83 329.17 858.67 327.72 860.5 324.53 860.5 323.08 858.67 322.5 856.83 322.5 853.17 323.08 851.33 324.53 849.5M390.46 851.03 389.3 849.5 385.24 849.5 383.5 851.33 383.5 858.67 385.24 860.5 389.01 860.5 390.46 858.67 390.46 855.61 389.01 853.78 385.24 853.78 383.5 855.61M395.53 849.5 398.72 849.5 400.17 851.33 400.75 853.17 400.75 856.83 400.17 858.67 398.72 860.5 395.53 860.5 394.08 858.67 393.5 856.83 393.5 853.17 394.08 851.33 395.53 849.5M455.24 849.5 459.01 849.5 460.46 851.03 460.46 853.47 459.01 855 455.24 855 453.79 853.47 453.79 851.03 455.24 849.5M455.24 855 453.79 856.22 453.5 857.44 453.5 859.28 454.95 860.5 459.3 860.5 460.75 859.28 460.75 857.44 460.17 856.22 459.01 855M465.53 849.5 468.72 849.5 470.17 851.33 470.75 853.17 470.75 856.83 470.17 858.67 468.72 860.5 465.53 860.5 464.08 858.67 463.5 856.83 463.5 853.17 464.08 851.33 465.53 849.5M520.5 851.33 523.11 849.5 523.11 860.5M530.53 849.5 533.72 849.5 535.17 851.33 535.75 853.17 535.75 856.83 535.17 858.67 533.72 860.5 530.53 860.5 529.08 858.67 528.5 856.83 528.5 853.17 529.08 851.33 530.53 849.5M540.53 849.5 543.72 849.5 545.17 851.33 545.75 853.17 545.75 856.83 545.17 858.67 543.72 860.5 540.53 860.5 539.08 858.67 538.5 856.83 538.5 853.17 539.08 851.33 540.53 849.5M591.5 851.33 594.11 849.5 594.11 860.5M600.08 851.33 602.11 849.5 604.43 849.5 606.46 851.33 606.46 854.08 605.01 856.22 599.5 860.5 606.75 860.5M611.53 849.5 614.72 849.5 616.17 851.33 616.75 853.17 616.75 856.83 616.17 858.67 614.72 860.5 611.53 860.5 610.08 858.67 609.5 856.83 609.5 853.17 610.08 851.33 611.53 849.5M661.5 851.33 664.11 849.5 664.11 860.5M677.33 857.14 669.5 857.14 674.43 849.5 674.43 860.5M681.53 849.5 684.72 849.5 686.17 851.33 686.75 853.17 686.75 856.83 686.17 858.67 684.72 860.5 681.53 860.5 680.08 858.67 679.5 856.83 679.5 853.17 680.08 851.33 681.53 849.5M732.5 851.33 735.11 849.5 735.11 860.5M747.46 851.03 746.3 849.5 742.24 849.5 740.5 851.33 740.5 858.67 742.24 860.5 746.01 860.5 747.46 858.67 747.46 855.61 746.01 853.78 742.24 853.78 740.5 855.61M752.53 849.5 755.72 849.5 757.17 851.33 757.75 853.17 757.75 856.83 757.17 858.67 755.72 860.5 752.53 860.5 751.08 858.67 750.5 856.83 750.5 853.17 751.08 851.33 752.53 849.5M803.5 851.33 806.11 849.5 806.11 860.5M813.24 849.5 817.01 849.5 818.46 851.03 818.46 853.47 817.01 855 813.24 855 811.79 853.47 811.79 851.03 813.24 849.5M813.24 855 811.79 856.22 811.5 857.44 811.5 859.28 812.95 860.5 817.3 860.5 818.75 859.28 818.75 857.44 818.17 856.22 817.01 855M823.53 849.5 826.72 849.5 828.17 851.33 828.75 853.17 828.75 856.83 828.17 858.67 826.72 860.5 823.53 860.5 822.08 858.67 821.5 856.83 821.5 853.17 822.08 851.33 823.53 849.5M162.46 834.5 165.54 834.5 166.94 836.33 167.5 838.17 167.5 841.83 166.94 843.67 165.54 845.5 162.46 845.5 161.06 843.67 160.5 841.83 160.5 838.17 161.06 836.33 162.46 834.5M151.06 765.33 153.02 763.5 155.26 763.5 157.22 765.33 157.22 768.08 155.82 770.22 150.5 774.5 157.5 774.5M162.46 763.5 165.54 763.5 166.94 765.33 167.5 767.17 167.5 770.83 166.94 772.67 165.54 774.5 162.46 774.5 161.06 772.67 160.5 770.83 160.5 767.17 161.06 765.33 162.46 763.5M158.06 700.14 150.5 700.14 155.26 692.5 155.26 703.5M162.46 692.5 165.54 692.5 166.94 694.33 167.5 696.17 167.5 699.83 166.94 701.67 165.54 703.5 162.46 703.5 161.06 701.67 160.5 699.83 160.5 696.17 161.06 694.33 162.46 692.5M157.22 623.03 156.1 621.5 152.18 621.5 150.5 623.33 150.5 630.67 152.18 632.5 155.82 632.5 157.22 630.67 157.22 627.61 155.82 625.78 152.18 625.78 150.5 627.61M162.46 621.5 165.54 621.5 166.94 623.33 167.5 625.17 167.5 628.83 166.94 630.67 165.54 632.5 162.46 632.5 161.06 630.67 160.5 628.83 160.5 625.17 161.06 623.33 162.46 621.5M152.18 551.5 155.82 551.5 157.22 553.03 157.22 555.47 155.82 557 152.18 557 150.78 555.47 150.78 553.03 152.18 551.5M152.18 557 150.78 558.22 150.5 559.44 150.5 561.28 151.9 562.5 156.1 562.5 157.5 561.28 157.5 559.44 156.94 558.22 155.82 557M162.46 551.5 165.54 551.5 166.94 553.33 167.5 555.17 167.5 558.83 166.94 560.67 165.54 562.5 162.46 562.5 161.06 560.67 160.5 558.83 160.5 555.17 161.06 553.33 162.46 551.5M142.5 482.33 145.02 480.5 145.02 491.5M152.46 480.5 155.54 480.5 156.94 482.33 157.5 484.17 157.5 487.83 156.94 489.67 155.54 491.5 152.46 491.5 151.06 489.67 150.5 487.83 150.5 484.17 151.06 482.33 152.46 480.5M162.46 480.5 165.54 480.5 166.94 482.33 167.5 484.17 167.5 487.83 166.94 489.67 165.54 491.5 162.46 491.5 161.06 489.67 160.5 487.83 160.5 484.17 161.06 482.33 162.46 480.5M142.5 411.33 145.02 409.5 145.02 420.5M151.06 411.33 153.02 409.5 155.26 409.5 157.22 411.33 157.22 414.08 155.82 416.22 150.5 420.5 157.5 420.5M162.46 409.5 165.54 409.5 166.94 411.33 167.5 413.17 167.5 416.83 166.94 418.67 165.54 420.5 162.46 420.5 161.06 418.67 160.5 416.83 160.5 413.17 161.06 411.33 162.46 409.5M142.5 340.33 145.02 338.5 145.02 349.5M158.06 346.14 150.5 346.14 155.26 338.5 155.26 349.5M162.46 338.5 165.54 338.5 166.94 340.33 167.5 342.17 167.5 345.83 166.94 347.67 165.54 349.5 162.46 349.5 161.06 347.67 160.5 345.83 160.5 342.17 161.06 340.33 162.46 338.5M142.5 270.33 145.02 268.5 145.02 279.5M157.22 270.03 156.1 268.5 152.18 268.5 150.5 270.33 150.5 277.67 152.18 279.5 155.82 279.5 157.22 277.67 157.22 274.61 155.82 272.78 152.18 272.78 150.5 274.61M162.46 268.5 165.54 268.5 166.94 270.33 167.5 272.17 167.5 275.83 166.94 277.67 165.54 279.5 162.46 279.5 161.06 277.67 160.5 275.83 160.5 272.17 161.06 270.33 162.46 268.5M142.5 199.33 145.02 197.5 145.02 208.5M152.18 197.5 155.82 197.5 157.22 199.03 157.22 201.47 155.82 203 152.18 203 150.78 201.47 150.78 199.03 152.18 197.5M152.18 203 150.78 204.22 150.5 205.44 150.5 207.28 151.9 208.5 156.1 208.5 157.5 207.28 157.5 205.44 156.94 204.22 155.82 203M162.46 197.5 165.54 197.5 166.94 199.33 167.5 201.17 167.5 204.83 166.94 206.67 165.54 208.5 162.46 208.5 161.06 206.67 160.5 204.83 160.5 201.17 161.06 199.33 162.46 197.5M868.12 178.5 870.29 176.5 872.77 176.5 874.94 178.5 874.94 181.5 873.39 183.83 867.5 188.5 875.25 188.5M881.67 176.5 885.08 176.5 886.63 178.5 887.25 180.5 887.25 184.5 886.63 186.5 885.08 188.5 881.67 188.5 880.12 186.5 879.5 184.5 879.5 180.5 880.12 178.5 881.67 176.5M893.67 176.5 897.08 176.5 898.63 178.5 899.25 180.5 899.25 184.5 898.63 186.5 897.08 188.5 893.67 188.5 892.12 186.5 891.5 184.5 891.5 180.5 892.12 178.5 893.67 176.5M902.5 187.83 904.36 187.83M903.43 187.83 903.43 188.5M867.5 208.5 870.29 206.5 870.29 218.5M883.94 211.83 882.39 214.17 878.36 214.17 876.5 212.17 876.5 208.5 878.36 206.5 882.39 206.5 883.94 208.5 883.94 216.5 882.39 218.5 878.36 218.5 876.81 217.17M890.67 206.5 894.08 206.5 895.63 208.5 896.25 210.5 896.25 214.5 895.63 216.5 894.08 218.5 890.67 218.5 889.12 216.5 888.5 214.5 888.5 210.5 889.12 208.5 890.67 206.5M899.5 217.83 901.36 217.83M900.43 217.83 900.43 218.5M867.5 275.5 870.29 273.5 870.29 285.5M876.5 273.5 884.25 273.5 884.25 274.5 878.98 285.5M890.67 273.5 894.08 273.5 895.63 275.5 896.25 277.5 896.25 281.5 895.63 283.5 894.08 285.5 890.67 285.5 889.12 283.5 888.5 281.5 888.5 277.5 889.12 275.5 890.67 273.5M899.5 284.83 901.36 284.83M900.43 284.83 900.43 285.5M867.5 343.5 870.29 341.5 870.29 353.5M883.32 341.5 877.12 341.5 877.12 347.17 879.29 345.83 882.08 345.83 884.25 348.17 884.25 351.5 882.7 353.5 878.67 353.5 876.5 351.5M890.67 341.5 894.08 341.5 895.63 343.5 896.25 345.5 896.25 349.5 895.63 351.5 894.08 353.5 890.67 353.5 889.12 351.5 888.5 349.5 888.5 345.5 889.12 343.5 890.67 341.5M899.5 352.83 901.36 352.83M900.43 352.83 900.43 353.5M867.5 410.5 870.29 408.5 870.29 420.5M876.81 408.5 883.94 408.5 880.22 413.17 882.39 413.17 883.94 414.83 883.94 418.83 882.39 420.5 878.36 420.5 876.5 418.5M890.67 408.5 894.08 408.5 895.63 410.5 896.25 412.5 896.25 416.5 895.63 418.5 894.08 420.5 890.67 420.5 889.12 418.5 888.5 416.5 888.5 412.5 889.12 410.5 890.67 408.5M899.5 419.83 901.36 419.83M900.43 419.83 900.43 420.5M867.5 477.5 870.29 475.5 870.29 487.5M876.5 477.5 879.29 475.5 879.29 487.5M887.67 475.5 891.08 475.5 892.63 477.5 893.25 479.5 893.25 483.5 892.63 485.5 891.08 487.5 887.67 487.5 886.12 485.5 885.5 483.5 885.5 479.5 886.12 477.5 887.67 475.5M896.5 486.83 898.36 486.83M897.43 486.83 897.43 487.5M874.94 547.83 873.39 550.17 869.36 550.17 867.5 548.17 867.5 544.5 869.36 542.5 873.39 542.5 874.94 544.5 874.94 552.5 873.39 554.5 869.36 554.5 867.81 553.17M881.67 542.5 885.08 542.5 886.63 544.5 887.25 546.5 887.25 550.5 886.63 552.5 885.08 554.5 881.67 554.5 880.12 552.5 879.5 550.5 879.5 546.5 880.12 544.5 881.67 542.5M890.5 553.83 892.36 553.83M891.43 553.83 891.43 554.5M867.5 609.5 875.25 609.5 875.25 610.5 869.98 621.5M881.67 609.5 885.08 609.5 886.63 611.5 887.25 613.5 887.25 617.5 886.63 619.5 885.08 621.5 881.67 621.5 880.12 619.5 879.5 617.5 879.5 613.5 880.12 611.5 881.67 609.5M890.5 620.83 892.36 620.83M891.43 620.83 891.43 621.5M874.32 676.5 868.12 676.5 868.12 682.17 870.29 680.83 873.08 680.83 875.25 683.17 875.25 686.5 873.7 688.5 869.67 688.5 867.5 686.5M881.67 676.5 885.08 676.5 886.63 678.5 887.25 680.5 887.25 684.5 886.63 686.5 885.08 688.5 881.67 688.5 880.12 686.5 879.5 684.5 879.5 680.5 880.12 678.5 881.67 676.5M890.5 687.83 892.36 687.83M891.43 687.83 891.43 688.5M867.81 744.5 874.94 744.5 871.22 749.17 873.39 749.17 874.94 750.83 874.94 754.83 873.39 756.5 869.36 756.5 867.5 754.5M881.67 744.5 885.08 744.5 886.63 746.5 887.25 748.5 887.25 752.5 886.63 754.5 885.08 756.5 881.67 756.5 880.12 754.5 879.5 752.5 879.5 748.5 880.12 746.5 881.67 744.5M890.5 755.83 892.36 755.83M891.43 755.83 891.43 756.5M867.5 813.5 870.29 811.5 870.29 823.5M878.67 811.5 882.08 811.5 883.63 813.5 884.25 815.5 884.25 819.5 883.63 821.5 882.08 823.5 878.67 823.5 877.12 821.5 876.5 819.5 876.5 815.5 877.12 813.5 878.67 811.5M887.5 822.83 889.36 822.83M888.43 822.83 888.43 823.5" fill="none" stroke="#000" stroke-width="1" stroke-linecap="square" shape-rendering="crispEdges"/><path transform="rotate(-90)" d="M-508.25 105.83 -510.75 108.61 -511.5 110.83 -511.5 114.72 -510.75 117.5 -508.25 121.11M-505.5 107.5 -505.5 117.5M-501.5 110.83 -505.5 115.56M-504 114.17 -501 117.5M-498.5 110.83 -498.5 117.5M-498.5 112.78 -496.75 110.83 -495 110.83 -493.5 112.22 -493.5 117.5M-493.5 112.22 -491.75 110.83 -490 110.83 -488.75 112.22 -488.75 117.5M-485.5 105.83 -483.75 108.06 -482.25 111.11 -482.25 114.44 -483 117.5 -484.75 120.28 -485.5 121.11" fill="none" stroke="#000" stroke-width="1" stroke-linecap="square" shape-rendering="crispEdges"/>
</svg></body></html>
